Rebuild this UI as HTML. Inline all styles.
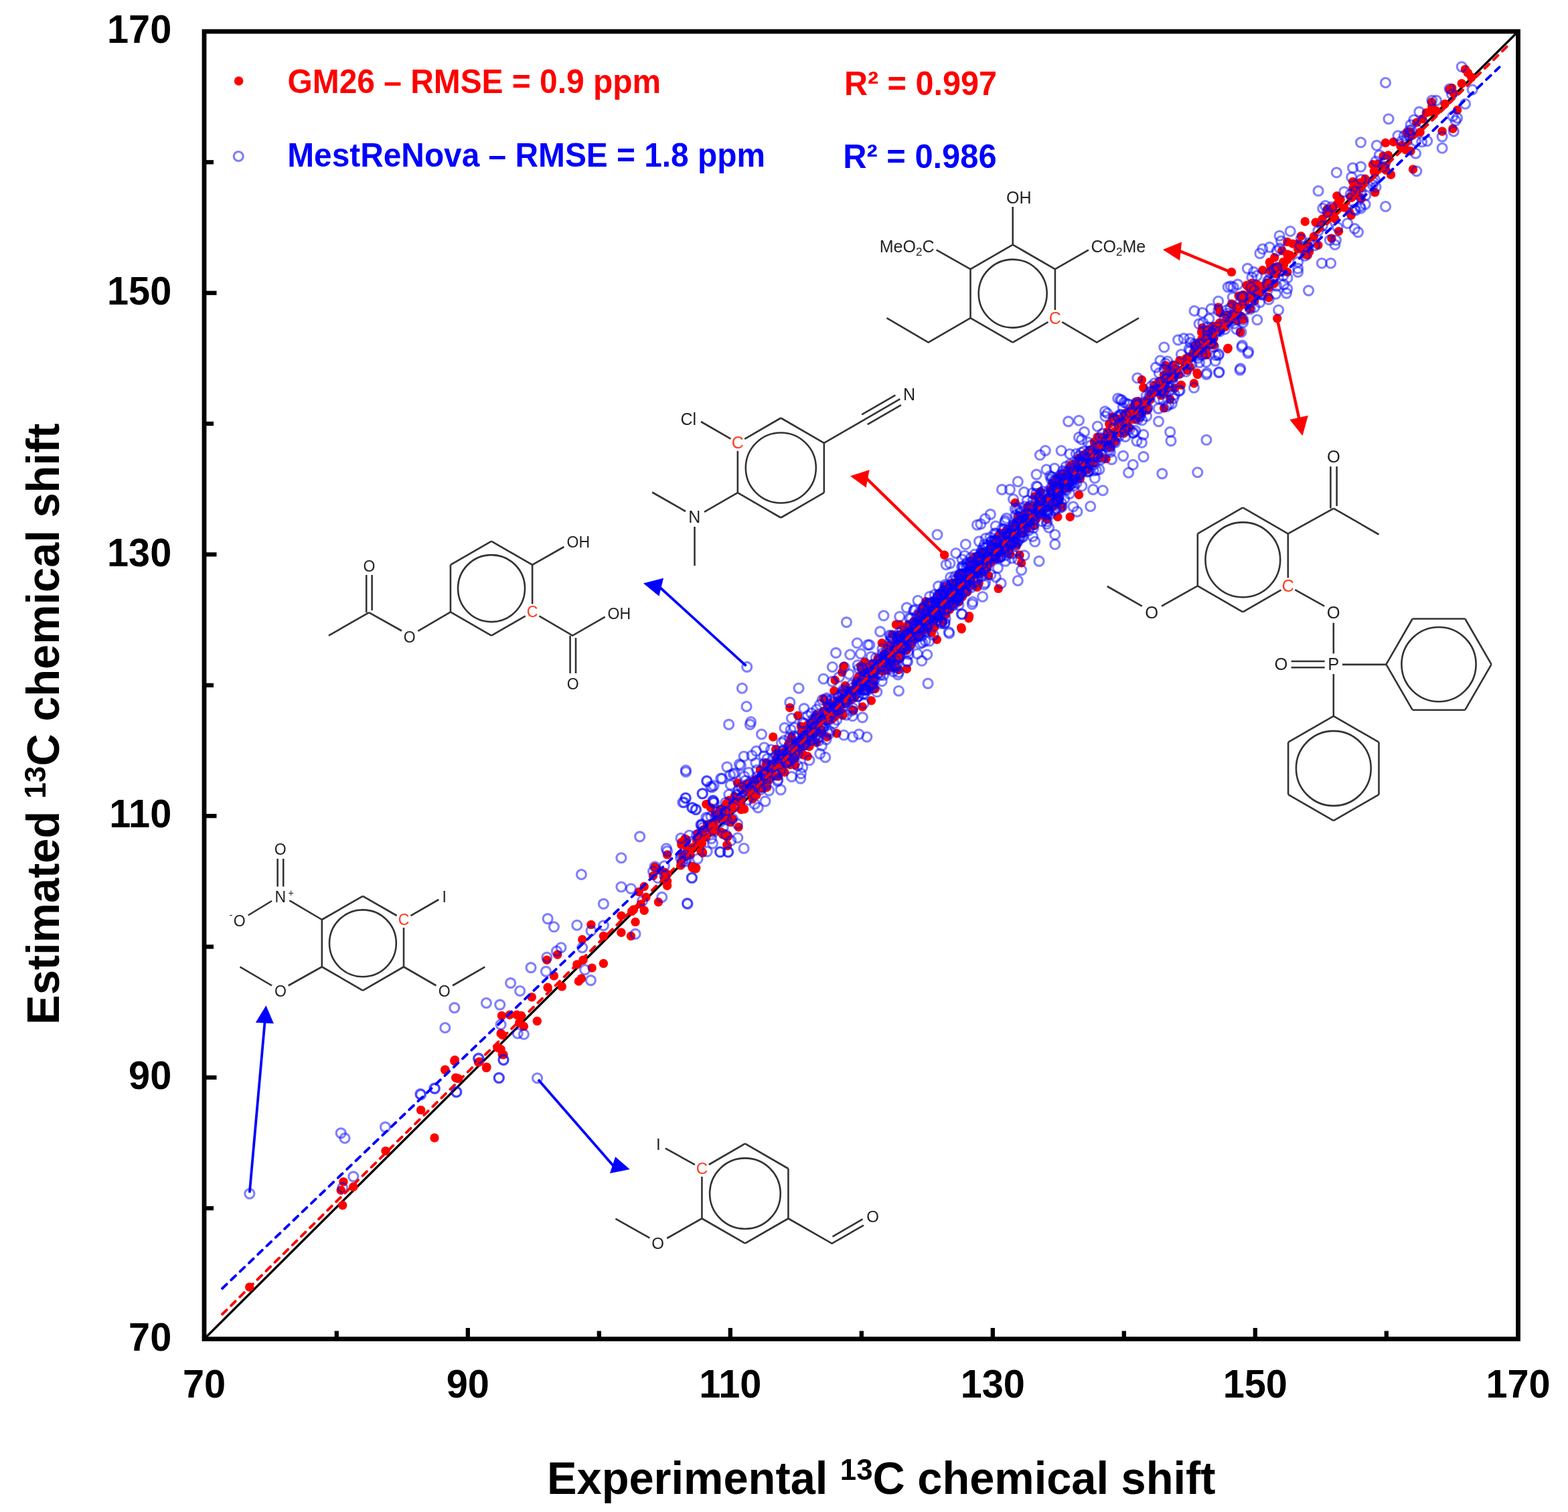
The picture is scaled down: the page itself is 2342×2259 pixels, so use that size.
<!DOCTYPE html><html><head><meta charset="utf-8"><style>html,body{margin:0;padding:0;background:#fff;overflow:hidden;}svg{display:block}text{font-family:"Liberation Sans",Arial,sans-serif}</style></head><body>
<svg width="2342" height="2259" viewBox="0 0 2342 2259">
<rect width="2342" height="2259" fill="#fff"/>
<line x1="1512.7" y1="365.6" x2="1575.9" y2="402.1" stroke="#333" stroke-width="2.6" />
<line x1="1575.9" y1="402.1" x2="1575.9" y2="463.1" stroke="#333" stroke-width="2.6" />
<line x1="1565.5" y1="481.1" x2="1512.7" y2="511.6" stroke="#333" stroke-width="2.6" />
<line x1="1512.7" y1="511.6" x2="1449.5" y2="475.1" stroke="#333" stroke-width="2.6" />
<line x1="1449.5" y1="475.1" x2="1449.5" y2="402.1" stroke="#333" stroke-width="2.6" />
<line x1="1449.5" y1="402.1" x2="1512.7" y2="365.6" stroke="#333" stroke-width="2.6" />
<circle cx="1512.7" cy="438.6" r="51.0" fill="none" stroke="#333" stroke-width="2.6"/>
<text x="1575.9" y="483.7" font-size="25" fill="#ff3b1f" text-anchor="middle" font-weight="normal" >C</text>
<line x1="1512.7" y1="365.6" x2="1512.7" y2="309.0" stroke="#333" stroke-width="2.6" />
<text x="1503.0" y="304.3" font-size="25" fill="#222" text-anchor="start" font-weight="normal" >OH</text>
<line x1="1449.5" y1="402.1" x2="1398.6" y2="373.3" stroke="#333" stroke-width="2.6" />
<text x="1395.5" y="377.0" font-size="25" fill="#222" text-anchor="end" font-weight="normal" >MeO<tspan font-size="17.0" dy="5.0">2</tspan><tspan dy="-5.0">C</tspan></text>
<line x1="1575.9" y1="402.1" x2="1626.0" y2="373.3" stroke="#333" stroke-width="2.6" />
<text x="1629.5" y="377.0" font-size="25" fill="#222" text-anchor="start" font-weight="normal" >CO<tspan font-size="17.0" dy="5.0">2</tspan><tspan dy="-5.0">Me</tspan></text>
<polyline points="1449.5,475.1 1386.6,511.6 1324.5,475.2" fill="none" stroke="#333" stroke-width="2.6" stroke-linejoin="miter"/>
<polyline points="1586.3,481.2 1638.2,511.6 1701.0,475.2" fill="none" stroke="#333" stroke-width="2.6" stroke-linejoin="miter"/>
<line x1="1166.3" y1="624.5" x2="1230.8" y2="661.8" stroke="#333" stroke-width="2.6" />
<line x1="1230.8" y1="661.8" x2="1230.8" y2="736.2" stroke="#333" stroke-width="2.6" />
<line x1="1230.8" y1="736.2" x2="1166.3" y2="773.5" stroke="#333" stroke-width="2.6" />
<line x1="1166.3" y1="773.5" x2="1101.8" y2="736.2" stroke="#333" stroke-width="2.6" />
<line x1="1101.8" y1="736.2" x2="1101.8" y2="673.8" stroke="#333" stroke-width="2.6" />
<line x1="1112.2" y1="655.8" x2="1166.3" y2="624.5" stroke="#333" stroke-width="2.6" />
<circle cx="1166.3" cy="699.0" r="52.5" fill="none" stroke="#333" stroke-width="2.6"/>
<text x="1101.8" y="670.4" font-size="25" fill="#ff3b1f" text-anchor="middle" font-weight="normal" >C</text>
<line x1="1091.4" y1="655.7" x2="1047.0" y2="630.0" stroke="#333" stroke-width="2.6" />
<text x="1016.5" y="634.5" font-size="25" fill="#222" text-anchor="start" font-weight="normal" >Cl</text>
<line x1="1230.8" y1="661.8" x2="1344.3" y2="596.2" stroke="#333" stroke-width="2.6" />
<line x1="1287.2" y1="619.4" x2="1337.4" y2="590.4" stroke="#333" stroke-width="2.6" />
<line x1="1295.7" y1="634.1" x2="1345.9" y2="605.1" stroke="#333" stroke-width="2.6" />
<text x="1358.0" y="597.6" font-size="25" fill="#222" text-anchor="middle" font-weight="normal" >N</text>
<line x1="1101.8" y1="736.2" x2="1052.0" y2="764.8" stroke="#333" stroke-width="2.6" />
<text x="1037.3" y="780.9" font-size="25" fill="#222" text-anchor="middle" font-weight="normal" >N</text>
<line x1="1024.0" y1="764.0" x2="974.2" y2="735.5" stroke="#333" stroke-width="2.6" />
<line x1="1037.5" y1="787.0" x2="1037.5" y2="845.2" stroke="#333" stroke-width="2.6" />
<line x1="734.0" y1="808.6" x2="795.1" y2="843.9" stroke="#333" stroke-width="2.6" />
<line x1="795.1" y1="843.9" x2="795.1" y2="902.4" stroke="#333" stroke-width="2.6" />
<line x1="784.7" y1="920.4" x2="734.0" y2="949.6" stroke="#333" stroke-width="2.6" />
<line x1="734.0" y1="949.6" x2="672.9" y2="914.4" stroke="#333" stroke-width="2.6" />
<line x1="672.9" y1="914.4" x2="672.9" y2="843.9" stroke="#333" stroke-width="2.6" />
<line x1="672.9" y1="843.9" x2="734.0" y2="808.6" stroke="#333" stroke-width="2.6" />
<circle cx="734.0" cy="879.1" r="50.0" fill="none" stroke="#333" stroke-width="2.6"/>
<text x="795.1" y="922.3" font-size="23" fill="#ff3b1f" text-anchor="middle" font-weight="normal" >C</text>
<line x1="795.1" y1="843.9" x2="842.4" y2="817.0" stroke="#333" stroke-width="2.6" />
<text x="846.5" y="818.3" font-size="23" fill="#222" text-anchor="start" font-weight="normal" >OH</text>
<polyline points="805.4,920.4 855.2,949.6 903.7,921.6" fill="none" stroke="#333" stroke-width="2.6" stroke-linejoin="miter"/>
<text x="907.5" y="925.4" font-size="23" fill="#222" text-anchor="start" font-weight="normal" >OH</text>
<line x1="851.6" y1="949.6" x2="851.6" y2="1006.0" stroke="#333" stroke-width="2.6" />
<line x1="860.0" y1="953.0" x2="860.0" y2="1006.0" stroke="#333" stroke-width="2.6" />
<text x="855.8" y="1030.4" font-size="23" fill="#222" text-anchor="middle" font-weight="normal" >O</text>
<line x1="672.9" y1="914.4" x2="624.3" y2="942.8" stroke="#333" stroke-width="2.6" />
<text x="611.6" y="959.5" font-size="23" fill="#222" text-anchor="middle" font-weight="normal" >O</text>
<line x1="600.0" y1="942.5" x2="551.1" y2="915.2" stroke="#333" stroke-width="2.6" />
<line x1="547.2" y1="915.2" x2="547.2" y2="859.0" stroke="#333" stroke-width="2.6" />
<line x1="555.6" y1="912.0" x2="555.6" y2="859.0" stroke="#333" stroke-width="2.6" />
<text x="551.4" y="854.1" font-size="23" fill="#222" text-anchor="middle" font-weight="normal" >O</text>
<line x1="551.1" y1="915.2" x2="490.9" y2="949.6" stroke="#333" stroke-width="2.6" />
<line x1="1856.3" y1="758.3" x2="1923.8" y2="797.3" stroke="#333" stroke-width="2.6" />
<line x1="1923.8" y1="797.3" x2="1923.8" y2="863.3" stroke="#333" stroke-width="2.6" />
<line x1="1913.5" y1="881.3" x2="1856.3" y2="914.3" stroke="#333" stroke-width="2.6" />
<line x1="1856.3" y1="914.3" x2="1788.8" y2="875.3" stroke="#333" stroke-width="2.6" />
<line x1="1788.8" y1="875.3" x2="1788.8" y2="797.3" stroke="#333" stroke-width="2.6" />
<line x1="1788.8" y1="797.3" x2="1856.3" y2="758.3" stroke="#333" stroke-width="2.6" />
<circle cx="1856.3" cy="836.3" r="55.9" fill="none" stroke="#333" stroke-width="2.6"/>
<text x="1923.8" y="884.1" font-size="25.5" fill="#ff3b1f" text-anchor="middle" font-weight="normal" >C</text>
<line x1="1923.8" y1="797.3" x2="1992.0" y2="759.6" stroke="#333" stroke-width="2.6" />
<line x1="1987.4" y1="759.6" x2="1987.4" y2="697.0" stroke="#333" stroke-width="2.6" />
<line x1="1996.6" y1="756.0" x2="1996.6" y2="697.0" stroke="#333" stroke-width="2.6" />
<text x="1991.8" y="690.6" font-size="25.5" fill="#222" text-anchor="middle" font-weight="normal" >O</text>
<line x1="1992.0" y1="759.6" x2="2059.4" y2="798.5" stroke="#333" stroke-width="2.6" />
<line x1="1788.8" y1="875.3" x2="1734.9" y2="905.6" stroke="#333" stroke-width="2.6" />
<text x="1720.2" y="923.8" font-size="25.5" fill="#222" text-anchor="middle" font-weight="normal" >O</text>
<line x1="1705.8" y1="905.6" x2="1653.8" y2="876.0" stroke="#333" stroke-width="2.6" />
<line x1="1934.3" y1="881.1" x2="1978.2" y2="905.6" stroke="#333" stroke-width="2.6" />
<text x="1991.6" y="924.1" font-size="25.5" fill="#222" text-anchor="middle" font-weight="normal" >O</text>
<line x1="1991.8" y1="930.6" x2="1991.8" y2="976.5" stroke="#333" stroke-width="2.6" />
<text x="1991.8" y="1000.8" font-size="25.5" fill="#222" text-anchor="middle" font-weight="normal" >P</text>
<line x1="1928.6" y1="988.0" x2="1978.6" y2="988.0" stroke="#333" stroke-width="2.6" />
<line x1="1928.6" y1="997.2" x2="1978.6" y2="997.2" stroke="#333" stroke-width="2.6" />
<text x="1913.3" y="1001.2" font-size="25.5" fill="#222" text-anchor="middle" font-weight="normal" >O</text>
<line x1="2005.0" y1="992.9" x2="2070.4" y2="992.9" stroke="#333" stroke-width="2.6" />
<line x1="2070.4" y1="992.6" x2="2109.7" y2="924.5" stroke="#333" stroke-width="2.6" />
<line x1="2109.7" y1="924.5" x2="2188.3" y2="924.5" stroke="#333" stroke-width="2.6" />
<line x1="2188.3" y1="924.5" x2="2227.6" y2="992.6" stroke="#333" stroke-width="2.6" />
<line x1="2227.6" y1="992.6" x2="2188.3" y2="1060.7" stroke="#333" stroke-width="2.6" />
<line x1="2188.3" y1="1060.7" x2="2109.7" y2="1060.7" stroke="#333" stroke-width="2.6" />
<line x1="2109.7" y1="1060.7" x2="2070.4" y2="992.6" stroke="#333" stroke-width="2.6" />
<circle cx="2149.0" cy="992.6" r="55.6" fill="none" stroke="#333" stroke-width="2.6"/>
<line x1="1991.8" y1="1007.0" x2="1991.8" y2="1070.0" stroke="#333" stroke-width="2.6" />
<line x1="1991.8" y1="1069.8" x2="2059.5" y2="1108.9" stroke="#333" stroke-width="2.6" />
<line x1="2059.5" y1="1108.9" x2="2059.5" y2="1187.1" stroke="#333" stroke-width="2.6" />
<line x1="2059.5" y1="1187.1" x2="1991.8" y2="1226.2" stroke="#333" stroke-width="2.6" />
<line x1="1991.8" y1="1226.2" x2="1924.1" y2="1187.1" stroke="#333" stroke-width="2.6" />
<line x1="1924.1" y1="1187.1" x2="1924.1" y2="1108.9" stroke="#333" stroke-width="2.6" />
<line x1="1924.1" y1="1108.9" x2="1991.8" y2="1069.8" stroke="#333" stroke-width="2.6" />
<circle cx="1991.8" cy="1148.0" r="55.9" fill="none" stroke="#333" stroke-width="2.6"/>
<line x1="541.9" y1="1338.8" x2="592.6" y2="1368.0" stroke="#333" stroke-width="2.6" />
<line x1="603.0" y1="1386.0" x2="603.0" y2="1444.5" stroke="#333" stroke-width="2.6" />
<line x1="603.0" y1="1444.5" x2="541.9" y2="1479.8" stroke="#333" stroke-width="2.6" />
<line x1="541.9" y1="1479.8" x2="480.8" y2="1444.5" stroke="#333" stroke-width="2.6" />
<line x1="480.8" y1="1444.5" x2="480.8" y2="1374.0" stroke="#333" stroke-width="2.6" />
<line x1="480.8" y1="1374.0" x2="541.9" y2="1338.8" stroke="#333" stroke-width="2.6" />
<circle cx="541.9" cy="1409.3" r="49.9" fill="none" stroke="#333" stroke-width="2.6"/>
<text x="603.0" y="1382.0" font-size="23" fill="#ff3b1f" text-anchor="middle" font-weight="normal" >C</text>
<line x1="480.8" y1="1374.0" x2="432.4" y2="1345.4" stroke="#333" stroke-width="2.6" />
<text x="418.8" y="1347.9" font-size="23" fill="#222" text-anchor="middle" font-weight="normal" >N</text>
<text x="434.5" y="1339.0" font-size="14" fill="#222" text-anchor="middle" font-weight="normal" >+</text>
<line x1="414.6" y1="1283.0" x2="414.6" y2="1324.6" stroke="#333" stroke-width="2.6" />
<line x1="423.2" y1="1283.0" x2="423.2" y2="1324.6" stroke="#333" stroke-width="2.6" />
<text x="418.8" y="1276.8" font-size="23" fill="#222" text-anchor="middle" font-weight="normal" >O</text>
<line x1="406.0" y1="1346.0" x2="370.7" y2="1367.5" stroke="#333" stroke-width="2.6" />
<text x="357.6" y="1383.5" font-size="23" fill="#222" text-anchor="middle" font-weight="normal" >O</text>
<text x="345.0" y="1372.0" font-size="15" fill="#222" text-anchor="middle" font-weight="normal" >-</text>
<line x1="613.4" y1="1368.1" x2="655.3" y2="1344.0" stroke="#333" stroke-width="2.6" />
<text x="663.6" y="1347.9" font-size="23" fill="#222" text-anchor="middle" font-weight="normal" >I</text>
<line x1="480.8" y1="1444.5" x2="430.7" y2="1472.5" stroke="#333" stroke-width="2.6" />
<text x="418.9" y="1489.1" font-size="23" fill="#222" text-anchor="middle" font-weight="normal" >O</text>
<line x1="406.0" y1="1472.5" x2="358.5" y2="1444.6" stroke="#333" stroke-width="2.6" />
<line x1="603.0" y1="1444.5" x2="651.4" y2="1472.5" stroke="#333" stroke-width="2.6" />
<text x="663.8" y="1489.1" font-size="23" fill="#222" text-anchor="middle" font-weight="normal" >O</text>
<line x1="676.0" y1="1472.5" x2="724.3" y2="1444.6" stroke="#333" stroke-width="2.6" />
<line x1="1112.9" y1="1708.7" x2="1177.4" y2="1746.0" stroke="#333" stroke-width="2.6" />
<line x1="1177.4" y1="1746.0" x2="1177.4" y2="1820.5" stroke="#333" stroke-width="2.6" />
<line x1="1177.4" y1="1820.5" x2="1112.9" y2="1857.7" stroke="#333" stroke-width="2.6" />
<line x1="1112.9" y1="1857.7" x2="1048.4" y2="1820.5" stroke="#333" stroke-width="2.6" />
<line x1="1048.4" y1="1820.5" x2="1048.4" y2="1758.0" stroke="#333" stroke-width="2.6" />
<line x1="1058.8" y1="1740.0" x2="1112.9" y2="1708.7" stroke="#333" stroke-width="2.6" />
<circle cx="1112.9" cy="1783.2" r="52.8" fill="none" stroke="#333" stroke-width="2.6"/>
<text x="1048.4" y="1754.2" font-size="24" fill="#ff3b1f" text-anchor="middle" font-weight="normal" >C</text>
<line x1="1037.9" y1="1740.1" x2="993.8" y2="1715.6" stroke="#333" stroke-width="2.6" />
<text x="983.3" y="1717.8" font-size="24" fill="#222" text-anchor="middle" font-weight="normal" >I</text>
<line x1="1048.4" y1="1820.5" x2="996.2" y2="1850.0" stroke="#333" stroke-width="2.6" />
<text x="982.6" y="1865.9" font-size="24" fill="#222" text-anchor="middle" font-weight="normal" >O</text>
<line x1="970.4" y1="1849.6" x2="919.4" y2="1820.8" stroke="#333" stroke-width="2.6" />
<polyline points="1177.4,1820.5 1242.6,1857.8 1290.0,1830.6" fill="none" stroke="#333" stroke-width="2.6" stroke-linejoin="miter"/>
<line x1="1243.5" y1="1847.6" x2="1288.5" y2="1821.4" stroke="#333" stroke-width="2.6" />
<text x="1303.6" y="1825.5" font-size="24" fill="#222" text-anchor="middle" font-weight="normal" >O</text>
<line x1="305.0" y1="2000.5" x2="2267.5" y2="47.0" stroke="#000" stroke-width="3.4"/>
<g fill="#ff0000">
<circle cx="372.7" cy="1923.0" r="6.7"/>
<circle cx="513.0" cy="1765.6" r="6.7"/>
<circle cx="509.2" cy="1778.3" r="6.7"/>
<circle cx="527.8" cy="1773.2" r="6.7"/>
<circle cx="511.7" cy="1800.8" r="6.7"/>
<circle cx="576.0" cy="1719.6" r="6.7"/>
<circle cx="649.0" cy="1700.0" r="6.7"/>
<circle cx="628.6" cy="1658.4" r="6.7"/>
<circle cx="664.8" cy="1598.5" r="6.7"/>
<circle cx="678.8" cy="1585.2" r="6.7"/>
<circle cx="681.4" cy="1610.7" r="6.7"/>
<circle cx="714.5" cy="1587.0" r="6.7"/>
<circle cx="726.5" cy="1595.4" r="6.7"/>
<circle cx="743.9" cy="1565.3" r="6.7"/>
<circle cx="750.3" cy="1575.5" r="6.7"/>
<circle cx="1054.8" cy="1201.6" r="6.7"/>
<circle cx="1061.4" cy="1206.8" r="6.7"/>
<circle cx="1068.0" cy="1216.1" r="6.7"/>
<circle cx="1075.9" cy="1209.5" r="6.7"/>
<circle cx="1086.5" cy="1216.1" r="6.7"/>
<circle cx="1094.4" cy="1224.0" r="6.7"/>
<circle cx="1097.1" cy="1189.7" r="6.7"/>
<circle cx="1060.1" cy="1237.3" r="6.7"/>
<circle cx="1065.4" cy="1242.5" r="6.7"/>
<circle cx="1081.2" cy="1245.2" r="6.7"/>
<circle cx="1086.5" cy="1250.5" r="6.7"/>
<circle cx="1086.5" cy="1263.7" r="6.7"/>
<circle cx="1054.8" cy="1250.5" r="6.7"/>
<circle cx="1023.1" cy="1253.1" r="6.7"/>
<circle cx="1017.8" cy="1258.4" r="6.7"/>
<circle cx="1033.6" cy="1266.3" r="6.7"/>
<circle cx="1046.9" cy="1271.6" r="6.7"/>
<circle cx="1049.5" cy="1274.3" r="6.7"/>
<circle cx="1031.0" cy="1276.9" r="6.7"/>
<circle cx="996.6" cy="1276.9" r="6.7"/>
<circle cx="1033.6" cy="1294.1" r="6.7"/>
<circle cx="1038.9" cy="1298.1" r="6.7"/>
<circle cx="978.1" cy="1295.4" r="6.7"/>
<circle cx="975.5" cy="1308.6" r="6.7"/>
<circle cx="996.6" cy="1306.0" r="6.7"/>
<circle cx="996.6" cy="1316.6" r="6.7"/>
<circle cx="996.6" cy="1323.2" r="6.7"/>
<circle cx="983.4" cy="1347.8" r="6.7"/>
<circle cx="962.2" cy="1324.5" r="6.7"/>
<circle cx="954.3" cy="1332.4" r="6.7"/>
<circle cx="964.9" cy="1340.4" r="6.7"/>
<circle cx="957.0" cy="1351.0" r="6.7"/>
<circle cx="962.2" cy="1360.2" r="6.7"/>
<circle cx="946.4" cy="1358.9" r="6.7"/>
<circle cx="943.7" cy="1361.5" r="6.7"/>
<circle cx="927.9" cy="1368.1" r="6.7"/>
<circle cx="949.0" cy="1377.4" r="6.7"/>
<circle cx="927.9" cy="1393.3" r="6.7"/>
<circle cx="942.4" cy="1398.5" r="6.7"/>
<circle cx="882.9" cy="1381.4" r="6.7"/>
<circle cx="901.4" cy="1398.5" r="6.7"/>
<circle cx="869.7" cy="1403.8" r="6.7"/>
<circle cx="871.0" cy="1434.2" r="6.7"/>
<circle cx="861.8" cy="1440.9" r="6.7"/>
<circle cx="884.2" cy="1446.1" r="6.7"/>
<circle cx="901.4" cy="1439.5" r="6.7"/>
<circle cx="864.4" cy="1466.0" r="6.7"/>
<circle cx="868.4" cy="1462.0" r="6.7"/>
<circle cx="832.7" cy="1426.3" r="6.7"/>
<circle cx="816.8" cy="1434.2" r="6.7"/>
<circle cx="827.4" cy="1458.0" r="6.7"/>
<circle cx="818.1" cy="1475.2" r="6.7"/>
<circle cx="839.3" cy="1473.9" r="6.7"/>
<circle cx="794.3" cy="1489.8" r="6.7"/>
<circle cx="749.4" cy="1517.5" r="6.7"/>
<circle cx="761.3" cy="1516.2" r="6.7"/>
<circle cx="771.9" cy="1516.2" r="6.7"/>
<circle cx="778.5" cy="1517.5" r="6.7"/>
<circle cx="775.8" cy="1528.1" r="6.7"/>
<circle cx="782.4" cy="1533.4" r="6.7"/>
<circle cx="802.3" cy="1525.5" r="6.7"/>
<circle cx="748.1" cy="1544.0" r="6.7"/>
<circle cx="750.7" cy="1546.6" r="6.7"/>
<circle cx="742.8" cy="1565.1" r="6.7"/>
<circle cx="748.1" cy="1567.8" r="6.7"/>
<circle cx="752.0" cy="1575.7" r="6.7"/>
<circle cx="716.3" cy="1586.3" r="6.7"/>
<circle cx="726.9" cy="1594.2" r="6.7"/>
<circle cx="679.3" cy="1583.6" r="6.7"/>
<circle cx="664.8" cy="1598.2" r="6.7"/>
<circle cx="680.6" cy="1610.1" r="6.7"/>
<circle cx="684.6" cy="1611.4" r="6.7"/>
<circle cx="1179.8" cy="1057.3" r="6.7"/>
<circle cx="1191.7" cy="1069.2" r="6.7"/>
<circle cx="1154.7" cy="1101.0" r="6.7"/>
<circle cx="1182.4" cy="1101.0" r="6.7"/>
<circle cx="1158.6" cy="1119.5" r="6.7"/>
<circle cx="1230.0" cy="1044.1" r="6.7"/>
<circle cx="1247.2" cy="1016.3" r="6.7"/>
<circle cx="1260.4" cy="995.2" r="6.7"/>
<circle cx="1257.8" cy="1004.4" r="6.7"/>
<circle cx="1245.9" cy="1032.2" r="6.7"/>
<circle cx="1285.6" cy="995.2" r="6.7"/>
<circle cx="1301.4" cy="1046.7" r="6.7"/>
<circle cx="1288.2" cy="1056.0" r="6.7"/>
<circle cx="1275.0" cy="1061.3" r="6.7"/>
<circle cx="1249.9" cy="1095.7" r="6.7"/>
<circle cx="1235.3" cy="1101.0" r="6.7"/>
<circle cx="1206.2" cy="1130.0" r="6.7"/>
<circle cx="1187.7" cy="1143.3" r="6.7"/>
<circle cx="1171.9" cy="1153.8" r="6.7"/>
<circle cx="1145.4" cy="1176.3" r="6.7"/>
<circle cx="1137.5" cy="1177.6" r="6.7"/>
<circle cx="1113.7" cy="1172.3" r="6.7"/>
<circle cx="1129.6" cy="1188.2" r="6.7"/>
<circle cx="1103.1" cy="1235.8" r="6.7"/>
<circle cx="1087.3" cy="1249.0" r="6.7"/>
<circle cx="1085.9" cy="1262.2" r="6.7"/>
<circle cx="1055.5" cy="1201.4" r="6.7"/>
<circle cx="1034.4" cy="1296.6" r="6.7"/>
<circle cx="1039.7" cy="1296.6" r="6.7"/>
<circle cx="1048.9" cy="1272.8" r="6.7"/>
<circle cx="1025.1" cy="1254.3" r="6.7"/>
<circle cx="1338.4" cy="933.1" r="6.7"/>
<circle cx="1343.7" cy="933.1" r="6.7"/>
<circle cx="1354.3" cy="999.2" r="6.7"/>
<circle cx="1399.3" cy="955.5" r="6.7"/>
<circle cx="1436.3" cy="939.7" r="6.7"/>
<circle cx="1446.9" cy="923.8" r="6.7"/>
<circle cx="1317.3" cy="960.8" r="6.7"/>
<circle cx="1325.2" cy="1000.5" r="6.7"/>
<circle cx="1342.4" cy="1000.5" r="6.7"/>
<circle cx="1516.3" cy="751.2" r="6.7"/>
<circle cx="1598.3" cy="772.3" r="6.7"/>
<circle cx="1579.8" cy="772.3" r="6.7"/>
<circle cx="1611.5" cy="739.3" r="6.7"/>
<circle cx="1491.2" cy="879.4" r="6.7"/>
<circle cx="1525.6" cy="841.1" r="6.7"/>
<circle cx="1523.0" cy="829.2" r="6.7"/>
<circle cx="1447.6" cy="920.4" r="6.7"/>
<circle cx="1435.7" cy="937.6" r="6.7"/>
<circle cx="1410.6" cy="829.2" r="6.7"/>
<circle cx="1738.4" cy="609.7" r="6.7"/>
<circle cx="1747.7" cy="596.5" r="6.7"/>
<circle cx="1788.7" cy="559.5" r="6.7"/>
<circle cx="1783.4" cy="572.7" r="6.7"/>
<circle cx="1833.6" cy="521.2" r="6.7"/>
<circle cx="1801.9" cy="530.4" r="6.7"/>
<circle cx="1705.4" cy="567.4" r="6.7"/>
<circle cx="1661.8" cy="623.0" r="6.7"/>
<circle cx="2188.5" cy="103.6" r="6.7"/>
<circle cx="2192.5" cy="108.9" r="6.7"/>
<circle cx="2197.8" cy="115.5" r="6.7"/>
<circle cx="2183.2" cy="124.8" r="6.7"/>
<circle cx="2168.7" cy="131.4" r="6.7"/>
<circle cx="2171.3" cy="139.3" r="6.7"/>
<circle cx="2138.3" cy="152.5" r="6.7"/>
<circle cx="2158.1" cy="155.2" r="6.7"/>
<circle cx="2176.6" cy="164.4" r="6.7"/>
<circle cx="2170.0" cy="192.2" r="6.7"/>
<circle cx="2154.1" cy="196.2" r="6.7"/>
<circle cx="2130.3" cy="168.4" r="6.7"/>
<circle cx="2135.6" cy="167.1" r="6.7"/>
<circle cx="2115.8" cy="183.0" r="6.7"/>
<circle cx="2106.5" cy="197.5" r="6.7"/>
<circle cx="2121.1" cy="197.5" r="6.7"/>
<circle cx="2099.9" cy="223.9" r="6.7"/>
<circle cx="2110.5" cy="253.0" r="6.7"/>
<circle cx="2069.5" cy="213.4" r="6.7"/>
<circle cx="2081.4" cy="212.0" r="6.7"/>
<circle cx="2092.0" cy="218.6" r="6.7"/>
<circle cx="2077.5" cy="261.0" r="6.7"/>
<circle cx="2073.5" cy="231.9" r="6.7"/>
<circle cx="2057.6" cy="245.1" r="6.7"/>
<circle cx="2052.3" cy="255.7" r="6.7"/>
<circle cx="2053.7" cy="287.4" r="6.7"/>
<circle cx="2020.6" cy="271.5" r="6.7"/>
<circle cx="2031.2" cy="272.9" r="6.7"/>
<circle cx="2032.5" cy="280.8" r="6.7"/>
<circle cx="2025.9" cy="287.4" r="6.7"/>
<circle cx="1996.8" cy="292.7" r="6.7"/>
<circle cx="2002.1" cy="298.0" r="6.7"/>
<circle cx="1991.5" cy="309.9" r="6.7"/>
<circle cx="2015.3" cy="316.5" r="6.7"/>
<circle cx="2018.0" cy="321.8" r="6.7"/>
<circle cx="1949.2" cy="331.0" r="6.7"/>
<circle cx="1965.1" cy="332.3" r="6.7"/>
<circle cx="1971.7" cy="332.3" r="6.7"/>
<circle cx="1962.4" cy="353.5" r="6.7"/>
<circle cx="1988.9" cy="356.1" r="6.7"/>
<circle cx="1999.5" cy="345.6" r="6.7"/>
<circle cx="1922.8" cy="361.4" r="6.7"/>
<circle cx="1930.7" cy="364.1" r="6.7"/>
<circle cx="1938.6" cy="372.0" r="6.7"/>
<circle cx="1914.8" cy="374.6" r="6.7"/>
<circle cx="1922.8" cy="379.9" r="6.7"/>
<circle cx="1953.2" cy="381.3" r="6.7"/>
<circle cx="1896.3" cy="391.8" r="6.7"/>
<circle cx="1897.7" cy="397.1" r="6.7"/>
<circle cx="1885.8" cy="403.7" r="6.7"/>
<circle cx="1922.8" cy="406.4" r="6.7"/>
<circle cx="1917.5" cy="395.8" r="6.7"/>
<circle cx="1862.0" cy="426.2" r="6.7"/>
<circle cx="1865.9" cy="430.2" r="6.7"/>
<circle cx="1850.1" cy="442.1" r="6.7"/>
<circle cx="1856.7" cy="440.8" r="6.7"/>
<circle cx="1839.5" cy="454.0" r="6.7"/>
<circle cx="1893.7" cy="443.4" r="6.7"/>
<circle cx="1895.0" cy="444.7" r="6.7"/>
<circle cx="1819.7" cy="459.3" r="6.7"/>
<circle cx="1822.3" cy="467.2" r="6.7"/>
<circle cx="1854.0" cy="472.5" r="6.7"/>
<circle cx="1795.9" cy="489.7" r="6.7"/>
<circle cx="1852.7" cy="496.3" r="6.7"/>
<circle cx="1834.2" cy="520.1" r="6.7"/>
<circle cx="1802.5" cy="529.3" r="6.7"/>
<circle cx="1787.9" cy="557.1" r="6.7"/>
<circle cx="1780.0" cy="533.3" r="6.7"/>
<circle cx="1839.5" cy="406.4" r="6.7"/>
<circle cx="1907.7" cy="475.7" r="6.7"/>
<circle cx="982.8" cy="1299.5" r="6.7"/>
<circle cx="992.3" cy="1312.0" r="6.7"/>
<circle cx="992.7" cy="1303.3" r="6.7"/>
<circle cx="1016.6" cy="1292.9" r="6.7"/>
<circle cx="1017.0" cy="1289.0" r="6.7"/>
<circle cx="1017.8" cy="1262.0" r="6.7"/>
<circle cx="1019.3" cy="1277.8" r="6.7"/>
<circle cx="1023.7" cy="1279.5" r="6.7"/>
<circle cx="1024.1" cy="1260.7" r="6.7"/>
<circle cx="1025.6" cy="1265.6" r="6.7"/>
<circle cx="1029.6" cy="1266.7" r="6.7"/>
<circle cx="1032.3" cy="1266.8" r="6.7"/>
<circle cx="1040.5" cy="1256.0" r="6.7"/>
<circle cx="1042.1" cy="1245.5" r="6.7"/>
<circle cx="1048.4" cy="1260.1" r="6.7"/>
<circle cx="1050.0" cy="1250.1" r="6.7"/>
<circle cx="1050.7" cy="1239.8" r="6.7"/>
<circle cx="1056.2" cy="1232.0" r="6.7"/>
<circle cx="1062.1" cy="1231.0" r="6.7"/>
<circle cx="1062.5" cy="1230.4" r="6.7"/>
<circle cx="1064.5" cy="1230.3" r="6.7"/>
<circle cx="1066.1" cy="1234.7" r="6.7"/>
<circle cx="1066.4" cy="1235.3" r="6.7"/>
<circle cx="1070.8" cy="1224.5" r="6.7"/>
<circle cx="1072.3" cy="1220.0" r="6.7"/>
<circle cx="1075.5" cy="1219.3" r="6.7"/>
<circle cx="1076.7" cy="1243.0" r="6.7"/>
<circle cx="1079.8" cy="1246.9" r="6.7"/>
<circle cx="1080.2" cy="1214.9" r="6.7"/>
<circle cx="1082.5" cy="1205.5" r="6.7"/>
<circle cx="1083.7" cy="1222.1" r="6.7"/>
<circle cx="1084.5" cy="1216.0" r="6.7"/>
<circle cx="1084.9" cy="1200.6" r="6.7"/>
<circle cx="1088.8" cy="1195.6" r="6.7"/>
<circle cx="1091.2" cy="1228.5" r="6.7"/>
<circle cx="1094.3" cy="1207.9" r="6.7"/>
<circle cx="1095.9" cy="1200.1" r="6.7"/>
<circle cx="1100.2" cy="1197.0" r="6.7"/>
<circle cx="1101.4" cy="1169.7" r="6.7"/>
<circle cx="1102.2" cy="1197.3" r="6.7"/>
<circle cx="1103.0" cy="1197.7" r="6.7"/>
<circle cx="1106.5" cy="1199.6" r="6.7"/>
<circle cx="1106.9" cy="1209.6" r="6.7"/>
<circle cx="1107.7" cy="1194.7" r="6.7"/>
<circle cx="1110.0" cy="1174.8" r="6.7"/>
<circle cx="1111.6" cy="1208.9" r="6.7"/>
<circle cx="1113.5" cy="1180.6" r="6.7"/>
<circle cx="1116.7" cy="1183.3" r="6.7"/>
<circle cx="1118.3" cy="1183.5" r="6.7"/>
<circle cx="1119.0" cy="1170.8" r="6.7"/>
<circle cx="1120.2" cy="1182.7" r="6.7"/>
<circle cx="1123.0" cy="1178.3" r="6.7"/>
<circle cx="1124.1" cy="1193.8" r="6.7"/>
<circle cx="1126.1" cy="1166.2" r="6.7"/>
<circle cx="1127.3" cy="1169.5" r="6.7"/>
<circle cx="1128.1" cy="1164.7" r="6.7"/>
<circle cx="1128.9" cy="1169.8" r="6.7"/>
<circle cx="1130.4" cy="1169.7" r="6.7"/>
<circle cx="1131.6" cy="1176.2" r="6.7"/>
<circle cx="1132.4" cy="1166.1" r="6.7"/>
<circle cx="1135.5" cy="1150.2" r="6.7"/>
<circle cx="1135.9" cy="1171.6" r="6.7"/>
<circle cx="1137.1" cy="1156.4" r="6.7"/>
<circle cx="1138.3" cy="1156.8" r="6.7"/>
<circle cx="1140.2" cy="1172.3" r="6.7"/>
<circle cx="1141.0" cy="1176.3" r="6.7"/>
<circle cx="1141.4" cy="1177.5" r="6.7"/>
<circle cx="1142.2" cy="1156.4" r="6.7"/>
<circle cx="1143.0" cy="1159.8" r="6.7"/>
<circle cx="1143.8" cy="1144.2" r="6.7"/>
<circle cx="1144.2" cy="1160.2" r="6.7"/>
<circle cx="1144.6" cy="1139.8" r="6.7"/>
<circle cx="1146.1" cy="1155.1" r="6.7"/>
<circle cx="1147.7" cy="1166.1" r="6.7"/>
<circle cx="1148.5" cy="1148.3" r="6.7"/>
<circle cx="1151.6" cy="1145.2" r="6.7"/>
<circle cx="1152.0" cy="1148.0" r="6.7"/>
<circle cx="1154.4" cy="1144.1" r="6.7"/>
<circle cx="1155.9" cy="1159.8" r="6.7"/>
<circle cx="1157.9" cy="1140.1" r="6.7"/>
<circle cx="1159.5" cy="1143.2" r="6.7"/>
<circle cx="1159.9" cy="1132.4" r="6.7"/>
<circle cx="1161.8" cy="1135.5" r="6.7"/>
<circle cx="1162.6" cy="1159.9" r="6.7"/>
<circle cx="1163.8" cy="1140.6" r="6.7"/>
<circle cx="1164.2" cy="1124.8" r="6.7"/>
<circle cx="1166.1" cy="1132.4" r="6.7"/>
<circle cx="1166.5" cy="1148.8" r="6.7"/>
<circle cx="1166.9" cy="1140.2" r="6.7"/>
<circle cx="1167.3" cy="1136.2" r="6.7"/>
<circle cx="1168.1" cy="1125.5" r="6.7"/>
<circle cx="1168.9" cy="1137.0" r="6.7"/>
<circle cx="1170.1" cy="1124.4" r="6.7"/>
<circle cx="1171.2" cy="1123.4" r="6.7"/>
<circle cx="1172.0" cy="1140.6" r="6.7"/>
<circle cx="1175.2" cy="1129.1" r="6.7"/>
<circle cx="1175.6" cy="1118.6" r="6.7"/>
<circle cx="1177.5" cy="1112.3" r="6.7"/>
<circle cx="1178.7" cy="1132.1" r="6.7"/>
<circle cx="1179.5" cy="1126.7" r="6.7"/>
<circle cx="1180.3" cy="1142.6" r="6.7"/>
<circle cx="1181.1" cy="1104.4" r="6.7"/>
<circle cx="1182.2" cy="1111.8" r="6.7"/>
<circle cx="1183.8" cy="1118.1" r="6.7"/>
<circle cx="1185.4" cy="1116.1" r="6.7"/>
<circle cx="1186.6" cy="1116.8" r="6.7"/>
<circle cx="1187.3" cy="1133.0" r="6.7"/>
<circle cx="1187.7" cy="1113.1" r="6.7"/>
<circle cx="1189.3" cy="1126.9" r="6.7"/>
<circle cx="1191.3" cy="1121.7" r="6.7"/>
<circle cx="1191.7" cy="1110.5" r="6.7"/>
<circle cx="1192.4" cy="1116.4" r="6.7"/>
<circle cx="1192.8" cy="1115.3" r="6.7"/>
<circle cx="1194.0" cy="1112.8" r="6.7"/>
<circle cx="1195.6" cy="1118.8" r="6.7"/>
<circle cx="1196.4" cy="1085.3" r="6.7"/>
<circle cx="1197.5" cy="1094.0" r="6.7"/>
<circle cx="1198.7" cy="1099.4" r="6.7"/>
<circle cx="1199.1" cy="1115.6" r="6.7"/>
<circle cx="1199.5" cy="1097.7" r="6.7"/>
<circle cx="1200.3" cy="1127.9" r="6.7"/>
<circle cx="1200.7" cy="1104.4" r="6.7"/>
<circle cx="1201.1" cy="1096.4" r="6.7"/>
<circle cx="1201.5" cy="1087.7" r="6.7"/>
<circle cx="1202.3" cy="1100.7" r="6.7"/>
<circle cx="1205.4" cy="1083.7" r="6.7"/>
<circle cx="1206.6" cy="1083.6" r="6.7"/>
<circle cx="1208.1" cy="1096.3" r="6.7"/>
<circle cx="1208.9" cy="1115.2" r="6.7"/>
<circle cx="1210.1" cy="1091.4" r="6.7"/>
<circle cx="1210.5" cy="1102.4" r="6.7"/>
<circle cx="1211.7" cy="1090.5" r="6.7"/>
<circle cx="1212.1" cy="1082.3" r="6.7"/>
<circle cx="1212.5" cy="1096.7" r="6.7"/>
<circle cx="1213.6" cy="1099.5" r="6.7"/>
<circle cx="1214.0" cy="1083.0" r="6.7"/>
<circle cx="1214.4" cy="1077.4" r="6.7"/>
<circle cx="1216.0" cy="1073.1" r="6.7"/>
<circle cx="1216.8" cy="1094.9" r="6.7"/>
<circle cx="1218.0" cy="1084.0" r="6.7"/>
<circle cx="1219.1" cy="1068.0" r="6.7"/>
<circle cx="1219.5" cy="1109.3" r="6.7"/>
<circle cx="1219.9" cy="1080.1" r="6.7"/>
<circle cx="1221.5" cy="1086.5" r="6.7"/>
<circle cx="1221.9" cy="1068.4" r="6.7"/>
<circle cx="1222.7" cy="1072.1" r="6.7"/>
<circle cx="1224.2" cy="1074.4" r="6.7"/>
<circle cx="1224.6" cy="1089.3" r="6.7"/>
<circle cx="1226.2" cy="1089.5" r="6.7"/>
<circle cx="1227.4" cy="1094.9" r="6.7"/>
<circle cx="1227.8" cy="1075.7" r="6.7"/>
<circle cx="1228.2" cy="1075.2" r="6.7"/>
<circle cx="1229.3" cy="1068.6" r="6.7"/>
<circle cx="1229.7" cy="1062.5" r="6.7"/>
<circle cx="1234.0" cy="1067.4" r="6.7"/>
<circle cx="1234.4" cy="1065.5" r="6.7"/>
<circle cx="1234.8" cy="1050.9" r="6.7"/>
<circle cx="1235.2" cy="1068.2" r="6.7"/>
<circle cx="1235.6" cy="1074.8" r="6.7"/>
<circle cx="1236.8" cy="1076.9" r="6.7"/>
<circle cx="1238.4" cy="1050.7" r="6.7"/>
<circle cx="1239.1" cy="1064.6" r="6.7"/>
<circle cx="1239.5" cy="1054.3" r="6.7"/>
<circle cx="1241.1" cy="1060.2" r="6.7"/>
<circle cx="1241.9" cy="1068.1" r="6.7"/>
<circle cx="1242.3" cy="1063.4" r="6.7"/>
<circle cx="1243.1" cy="1074.2" r="6.7"/>
<circle cx="1244.6" cy="1070.5" r="6.7"/>
<circle cx="1245.4" cy="1063.7" r="6.7"/>
<circle cx="1245.8" cy="1056.5" r="6.7"/>
<circle cx="1246.6" cy="1051.6" r="6.7"/>
<circle cx="1247.8" cy="1070.1" r="6.7"/>
<circle cx="1248.6" cy="1066.8" r="6.7"/>
<circle cx="1249.4" cy="1047.9" r="6.7"/>
<circle cx="1249.7" cy="1059.7" r="6.7"/>
<circle cx="1250.1" cy="1058.3" r="6.7"/>
<circle cx="1252.1" cy="1062.2" r="6.7"/>
<circle cx="1252.9" cy="1050.9" r="6.7"/>
<circle cx="1253.3" cy="1054.2" r="6.7"/>
<circle cx="1254.1" cy="1045.7" r="6.7"/>
<circle cx="1256.4" cy="1052.2" r="6.7"/>
<circle cx="1258.0" cy="1064.9" r="6.7"/>
<circle cx="1258.8" cy="1068.7" r="6.7"/>
<circle cx="1259.2" cy="1043.3" r="6.7"/>
<circle cx="1260.3" cy="1041.0" r="6.7"/>
<circle cx="1260.7" cy="1051.4" r="6.7"/>
<circle cx="1261.1" cy="1033.8" r="6.7"/>
<circle cx="1261.9" cy="1039.1" r="6.7"/>
<circle cx="1262.3" cy="1024.5" r="6.7"/>
<circle cx="1263.5" cy="1045.7" r="6.7"/>
<circle cx="1263.9" cy="1044.2" r="6.7"/>
<circle cx="1264.3" cy="1037.5" r="6.7"/>
<circle cx="1265.8" cy="1048.8" r="6.7"/>
<circle cx="1268.2" cy="1035.5" r="6.7"/>
<circle cx="1271.3" cy="1038.2" r="6.7"/>
<circle cx="1271.7" cy="1031.0" r="6.7"/>
<circle cx="1272.5" cy="1044.2" r="6.7"/>
<circle cx="1273.3" cy="1044.1" r="6.7"/>
<circle cx="1273.7" cy="1043.1" r="6.7"/>
<circle cx="1274.1" cy="1061.2" r="6.7"/>
<circle cx="1274.5" cy="1037.9" r="6.7"/>
<circle cx="1276.0" cy="1042.2" r="6.7"/>
<circle cx="1278.4" cy="1021.0" r="6.7"/>
<circle cx="1279.2" cy="1026.8" r="6.7"/>
<circle cx="1280.0" cy="1018.4" r="6.7"/>
<circle cx="1280.4" cy="1014.9" r="6.7"/>
<circle cx="1280.8" cy="1028.9" r="6.7"/>
<circle cx="1281.1" cy="1022.5" r="6.7"/>
<circle cx="1282.3" cy="1020.7" r="6.7"/>
<circle cx="1282.7" cy="1011.0" r="6.7"/>
<circle cx="1284.7" cy="1012.1" r="6.7"/>
<circle cx="1286.6" cy="1025.3" r="6.7"/>
<circle cx="1287.4" cy="1014.2" r="6.7"/>
<circle cx="1287.8" cy="1019.1" r="6.7"/>
<circle cx="1288.2" cy="1001.2" r="6.7"/>
<circle cx="1288.6" cy="1017.8" r="6.7"/>
<circle cx="1289.4" cy="1027.5" r="6.7"/>
<circle cx="1289.8" cy="997.9" r="6.7"/>
<circle cx="1290.2" cy="1005.5" r="6.7"/>
<circle cx="1291.0" cy="1008.3" r="6.7"/>
<circle cx="1291.4" cy="989.0" r="6.7"/>
<circle cx="1292.1" cy="1009.8" r="6.7"/>
<circle cx="1292.5" cy="1012.6" r="6.7"/>
<circle cx="1292.9" cy="998.2" r="6.7"/>
<circle cx="1293.3" cy="1002.1" r="6.7"/>
<circle cx="1295.7" cy="1015.8" r="6.7"/>
<circle cx="1296.5" cy="1000.3" r="6.7"/>
<circle cx="1296.8" cy="1009.5" r="6.7"/>
<circle cx="1297.6" cy="1015.2" r="6.7"/>
<circle cx="1299.6" cy="1000.9" r="6.7"/>
<circle cx="1301.2" cy="1029.7" r="6.7"/>
<circle cx="1301.6" cy="1015.4" r="6.7"/>
<circle cx="1301.9" cy="1017.7" r="6.7"/>
<circle cx="1302.7" cy="991.6" r="6.7"/>
<circle cx="1303.9" cy="1006.2" r="6.7"/>
<circle cx="1304.3" cy="996.2" r="6.7"/>
<circle cx="1304.7" cy="1020.6" r="6.7"/>
<circle cx="1305.1" cy="1012.4" r="6.7"/>
<circle cx="1306.3" cy="995.8" r="6.7"/>
<circle cx="1307.1" cy="1029.3" r="6.7"/>
<circle cx="1308.2" cy="1002.7" r="6.7"/>
<circle cx="1309.8" cy="1001.3" r="6.7"/>
<circle cx="1310.6" cy="997.1" r="6.7"/>
<circle cx="1311.0" cy="983.4" r="6.7"/>
<circle cx="1314.9" cy="998.4" r="6.7"/>
<circle cx="1315.7" cy="990.5" r="6.7"/>
<circle cx="1317.3" cy="981.9" r="6.7"/>
<circle cx="1318.0" cy="993.1" r="6.7"/>
<circle cx="1318.4" cy="1003.1" r="6.7"/>
<circle cx="1319.2" cy="991.1" r="6.7"/>
<circle cx="1319.6" cy="982.7" r="6.7"/>
<circle cx="1320.4" cy="976.6" r="6.7"/>
<circle cx="1322.0" cy="989.9" r="6.7"/>
<circle cx="1322.8" cy="983.8" r="6.7"/>
<circle cx="1323.1" cy="986.7" r="6.7"/>
<circle cx="1323.9" cy="979.9" r="6.7"/>
<circle cx="1324.3" cy="984.9" r="6.7"/>
<circle cx="1325.1" cy="965.0" r="6.7"/>
<circle cx="1326.7" cy="992.8" r="6.7"/>
<circle cx="1327.1" cy="973.2" r="6.7"/>
<circle cx="1328.2" cy="964.1" r="6.7"/>
<circle cx="1329.0" cy="985.3" r="6.7"/>
<circle cx="1329.4" cy="970.5" r="6.7"/>
<circle cx="1329.8" cy="987.5" r="6.7"/>
<circle cx="1330.2" cy="980.3" r="6.7"/>
<circle cx="1331.0" cy="986.2" r="6.7"/>
<circle cx="1331.4" cy="990.7" r="6.7"/>
<circle cx="1333.0" cy="948.1" r="6.7"/>
<circle cx="1334.1" cy="997.1" r="6.7"/>
<circle cx="1335.3" cy="993.0" r="6.7"/>
<circle cx="1335.7" cy="978.1" r="6.7"/>
<circle cx="1336.9" cy="962.8" r="6.7"/>
<circle cx="1337.3" cy="987.7" r="6.7"/>
<circle cx="1338.1" cy="960.2" r="6.7"/>
<circle cx="1339.2" cy="957.3" r="6.7"/>
<circle cx="1340.4" cy="956.0" r="6.7"/>
<circle cx="1341.2" cy="967.0" r="6.7"/>
<circle cx="1341.6" cy="979.3" r="6.7"/>
<circle cx="1342.0" cy="964.0" r="6.7"/>
<circle cx="1343.2" cy="948.5" r="6.7"/>
<circle cx="1343.9" cy="984.4" r="6.7"/>
<circle cx="1344.7" cy="977.8" r="6.7"/>
<circle cx="1345.1" cy="960.8" r="6.7"/>
<circle cx="1345.9" cy="972.5" r="6.7"/>
<circle cx="1346.3" cy="960.1" r="6.7"/>
<circle cx="1347.1" cy="949.3" r="6.7"/>
<circle cx="1347.9" cy="968.6" r="6.7"/>
<circle cx="1348.3" cy="957.4" r="6.7"/>
<circle cx="1349.4" cy="966.6" r="6.7"/>
<circle cx="1350.2" cy="940.9" r="6.7"/>
<circle cx="1351.4" cy="950.1" r="6.7"/>
<circle cx="1351.8" cy="953.7" r="6.7"/>
<circle cx="1352.2" cy="948.2" r="6.7"/>
<circle cx="1353.4" cy="964.0" r="6.7"/>
<circle cx="1353.8" cy="946.8" r="6.7"/>
<circle cx="1354.2" cy="971.5" r="6.7"/>
<circle cx="1354.9" cy="959.7" r="6.7"/>
<circle cx="1356.1" cy="944.5" r="6.7"/>
<circle cx="1356.5" cy="933.1" r="6.7"/>
<circle cx="1357.3" cy="947.6" r="6.7"/>
<circle cx="1358.5" cy="939.2" r="6.7"/>
<circle cx="1359.6" cy="964.3" r="6.7"/>
<circle cx="1360.0" cy="952.4" r="6.7"/>
<circle cx="1360.4" cy="954.8" r="6.7"/>
<circle cx="1360.8" cy="937.9" r="6.7"/>
<circle cx="1361.2" cy="949.0" r="6.7"/>
<circle cx="1361.6" cy="940.4" r="6.7"/>
<circle cx="1363.2" cy="950.3" r="6.7"/>
<circle cx="1364.7" cy="954.8" r="6.7"/>
<circle cx="1365.1" cy="947.9" r="6.7"/>
<circle cx="1365.5" cy="927.5" r="6.7"/>
<circle cx="1365.9" cy="929.7" r="6.7"/>
<circle cx="1366.3" cy="947.9" r="6.7"/>
<circle cx="1366.7" cy="937.1" r="6.7"/>
<circle cx="1367.1" cy="951.2" r="6.7"/>
<circle cx="1367.9" cy="937.5" r="6.7"/>
<circle cx="1369.1" cy="948.7" r="6.7"/>
<circle cx="1369.5" cy="936.5" r="6.7"/>
<circle cx="1371.0" cy="943.7" r="6.7"/>
<circle cx="1371.4" cy="939.0" r="6.7"/>
<circle cx="1372.2" cy="933.5" r="6.7"/>
<circle cx="1372.6" cy="916.2" r="6.7"/>
<circle cx="1373.0" cy="931.6" r="6.7"/>
<circle cx="1373.8" cy="940.7" r="6.7"/>
<circle cx="1374.2" cy="932.8" r="6.7"/>
<circle cx="1374.6" cy="930.6" r="6.7"/>
<circle cx="1375.0" cy="942.8" r="6.7"/>
<circle cx="1375.3" cy="946.7" r="6.7"/>
<circle cx="1376.1" cy="931.9" r="6.7"/>
<circle cx="1376.9" cy="933.0" r="6.7"/>
<circle cx="1377.7" cy="919.8" r="6.7"/>
<circle cx="1378.1" cy="907.7" r="6.7"/>
<circle cx="1378.5" cy="924.9" r="6.7"/>
<circle cx="1378.9" cy="925.4" r="6.7"/>
<circle cx="1379.3" cy="940.0" r="6.7"/>
<circle cx="1379.7" cy="941.3" r="6.7"/>
<circle cx="1380.1" cy="916.9" r="6.7"/>
<circle cx="1381.2" cy="930.7" r="6.7"/>
<circle cx="1382.0" cy="908.8" r="6.7"/>
<circle cx="1382.4" cy="940.2" r="6.7"/>
<circle cx="1382.8" cy="898.7" r="6.7"/>
<circle cx="1383.2" cy="924.2" r="6.7"/>
<circle cx="1383.6" cy="924.8" r="6.7"/>
<circle cx="1384.0" cy="927.7" r="6.7"/>
<circle cx="1384.4" cy="936.5" r="6.7"/>
<circle cx="1384.8" cy="926.2" r="6.7"/>
<circle cx="1385.9" cy="914.6" r="6.7"/>
<circle cx="1386.3" cy="924.2" r="6.7"/>
<circle cx="1386.7" cy="913.4" r="6.7"/>
<circle cx="1387.5" cy="937.9" r="6.7"/>
<circle cx="1387.9" cy="909.9" r="6.7"/>
<circle cx="1388.3" cy="939.2" r="6.7"/>
<circle cx="1388.7" cy="941.1" r="6.7"/>
<circle cx="1389.5" cy="919.4" r="6.7"/>
<circle cx="1389.9" cy="900.4" r="6.7"/>
<circle cx="1391.4" cy="944.9" r="6.7"/>
<circle cx="1392.2" cy="930.7" r="6.7"/>
<circle cx="1392.6" cy="920.9" r="6.7"/>
<circle cx="1393.0" cy="918.7" r="6.7"/>
<circle cx="1393.4" cy="897.8" r="6.7"/>
<circle cx="1394.2" cy="907.2" r="6.7"/>
<circle cx="1395.0" cy="919.9" r="6.7"/>
<circle cx="1395.8" cy="937.3" r="6.7"/>
<circle cx="1396.1" cy="913.4" r="6.7"/>
<circle cx="1396.5" cy="904.6" r="6.7"/>
<circle cx="1396.9" cy="915.9" r="6.7"/>
<circle cx="1397.3" cy="899.8" r="6.7"/>
<circle cx="1397.7" cy="924.8" r="6.7"/>
<circle cx="1398.1" cy="907.4" r="6.7"/>
<circle cx="1398.5" cy="918.4" r="6.7"/>
<circle cx="1398.9" cy="899.1" r="6.7"/>
<circle cx="1399.7" cy="923.9" r="6.7"/>
<circle cx="1400.1" cy="912.4" r="6.7"/>
<circle cx="1400.5" cy="918.3" r="6.7"/>
<circle cx="1400.9" cy="908.3" r="6.7"/>
<circle cx="1401.3" cy="918.9" r="6.7"/>
<circle cx="1401.6" cy="920.8" r="6.7"/>
<circle cx="1402.0" cy="919.2" r="6.7"/>
<circle cx="1402.4" cy="898.2" r="6.7"/>
<circle cx="1403.2" cy="886.5" r="6.7"/>
<circle cx="1403.6" cy="896.1" r="6.7"/>
<circle cx="1404.0" cy="906.0" r="6.7"/>
<circle cx="1404.4" cy="888.1" r="6.7"/>
<circle cx="1404.8" cy="910.0" r="6.7"/>
<circle cx="1405.6" cy="892.3" r="6.7"/>
<circle cx="1406.0" cy="904.9" r="6.7"/>
<circle cx="1406.7" cy="899.2" r="6.7"/>
<circle cx="1407.5" cy="901.4" r="6.7"/>
<circle cx="1408.3" cy="928.8" r="6.7"/>
<circle cx="1408.7" cy="917.2" r="6.7"/>
<circle cx="1409.5" cy="908.7" r="6.7"/>
<circle cx="1409.9" cy="901.2" r="6.7"/>
<circle cx="1410.3" cy="909.3" r="6.7"/>
<circle cx="1410.7" cy="894.1" r="6.7"/>
<circle cx="1411.1" cy="905.0" r="6.7"/>
<circle cx="1411.5" cy="889.5" r="6.7"/>
<circle cx="1411.8" cy="877.2" r="6.7"/>
<circle cx="1412.2" cy="886.0" r="6.7"/>
<circle cx="1413.0" cy="917.7" r="6.7"/>
<circle cx="1413.4" cy="882.9" r="6.7"/>
<circle cx="1413.8" cy="879.6" r="6.7"/>
<circle cx="1414.2" cy="882.4" r="6.7"/>
<circle cx="1414.6" cy="899.2" r="6.7"/>
<circle cx="1415.0" cy="902.9" r="6.7"/>
<circle cx="1416.2" cy="885.0" r="6.7"/>
<circle cx="1416.6" cy="906.1" r="6.7"/>
<circle cx="1417.7" cy="905.9" r="6.7"/>
<circle cx="1418.5" cy="910.5" r="6.7"/>
<circle cx="1418.9" cy="903.1" r="6.7"/>
<circle cx="1419.7" cy="872.4" r="6.7"/>
<circle cx="1421.7" cy="883.0" r="6.7"/>
<circle cx="1422.1" cy="894.5" r="6.7"/>
<circle cx="1422.4" cy="897.2" r="6.7"/>
<circle cx="1422.8" cy="871.5" r="6.7"/>
<circle cx="1423.2" cy="902.5" r="6.7"/>
<circle cx="1423.6" cy="886.4" r="6.7"/>
<circle cx="1424.0" cy="877.8" r="6.7"/>
<circle cx="1424.8" cy="898.5" r="6.7"/>
<circle cx="1425.2" cy="892.5" r="6.7"/>
<circle cx="1426.0" cy="888.3" r="6.7"/>
<circle cx="1426.4" cy="883.0" r="6.7"/>
<circle cx="1426.8" cy="876.6" r="6.7"/>
<circle cx="1427.5" cy="880.8" r="6.7"/>
<circle cx="1427.9" cy="880.5" r="6.7"/>
<circle cx="1428.7" cy="876.8" r="6.7"/>
<circle cx="1429.1" cy="868.9" r="6.7"/>
<circle cx="1429.5" cy="890.3" r="6.7"/>
<circle cx="1429.9" cy="868.8" r="6.7"/>
<circle cx="1430.7" cy="884.9" r="6.7"/>
<circle cx="1431.1" cy="859.5" r="6.7"/>
<circle cx="1431.5" cy="862.3" r="6.7"/>
<circle cx="1431.9" cy="899.6" r="6.7"/>
<circle cx="1432.3" cy="869.8" r="6.7"/>
<circle cx="1432.7" cy="878.5" r="6.7"/>
<circle cx="1433.0" cy="867.9" r="6.7"/>
<circle cx="1433.8" cy="871.2" r="6.7"/>
<circle cx="1434.2" cy="866.7" r="6.7"/>
<circle cx="1434.6" cy="865.1" r="6.7"/>
<circle cx="1435.0" cy="877.9" r="6.7"/>
<circle cx="1435.4" cy="869.7" r="6.7"/>
<circle cx="1435.8" cy="870.7" r="6.7"/>
<circle cx="1436.2" cy="858.0" r="6.7"/>
<circle cx="1436.6" cy="863.8" r="6.7"/>
<circle cx="1437.0" cy="875.3" r="6.7"/>
<circle cx="1437.4" cy="891.5" r="6.7"/>
<circle cx="1438.1" cy="881.9" r="6.7"/>
<circle cx="1438.5" cy="864.1" r="6.7"/>
<circle cx="1439.3" cy="868.7" r="6.7"/>
<circle cx="1439.7" cy="872.3" r="6.7"/>
<circle cx="1440.5" cy="874.7" r="6.7"/>
<circle cx="1440.9" cy="863.8" r="6.7"/>
<circle cx="1441.3" cy="881.8" r="6.7"/>
<circle cx="1441.7" cy="866.6" r="6.7"/>
<circle cx="1442.1" cy="876.1" r="6.7"/>
<circle cx="1442.5" cy="861.5" r="6.7"/>
<circle cx="1443.2" cy="869.2" r="6.7"/>
<circle cx="1443.6" cy="874.3" r="6.7"/>
<circle cx="1444.0" cy="857.2" r="6.7"/>
<circle cx="1444.4" cy="853.3" r="6.7"/>
<circle cx="1444.8" cy="884.2" r="6.7"/>
<circle cx="1446.4" cy="863.8" r="6.7"/>
<circle cx="1447.2" cy="869.2" r="6.7"/>
<circle cx="1447.6" cy="864.7" r="6.7"/>
<circle cx="1448.4" cy="866.1" r="6.7"/>
<circle cx="1448.7" cy="846.1" r="6.7"/>
<circle cx="1449.5" cy="854.1" r="6.7"/>
<circle cx="1449.9" cy="863.3" r="6.7"/>
<circle cx="1450.3" cy="865.2" r="6.7"/>
<circle cx="1450.7" cy="851.6" r="6.7"/>
<circle cx="1451.5" cy="873.3" r="6.7"/>
<circle cx="1451.9" cy="837.5" r="6.7"/>
<circle cx="1452.7" cy="836.8" r="6.7"/>
<circle cx="1453.1" cy="849.0" r="6.7"/>
<circle cx="1453.5" cy="854.4" r="6.7"/>
<circle cx="1454.6" cy="858.8" r="6.7"/>
<circle cx="1455.8" cy="832.0" r="6.7"/>
<circle cx="1456.2" cy="838.7" r="6.7"/>
<circle cx="1457.4" cy="855.9" r="6.7"/>
<circle cx="1458.2" cy="876.2" r="6.7"/>
<circle cx="1458.6" cy="851.0" r="6.7"/>
<circle cx="1459.7" cy="877.3" r="6.7"/>
<circle cx="1460.1" cy="857.5" r="6.7"/>
<circle cx="1460.5" cy="856.2" r="6.7"/>
<circle cx="1460.9" cy="851.1" r="6.7"/>
<circle cx="1461.7" cy="847.5" r="6.7"/>
<circle cx="1462.1" cy="871.4" r="6.7"/>
<circle cx="1462.5" cy="854.2" r="6.7"/>
<circle cx="1462.9" cy="855.9" r="6.7"/>
<circle cx="1463.7" cy="845.7" r="6.7"/>
<circle cx="1464.1" cy="855.5" r="6.7"/>
<circle cx="1465.2" cy="847.1" r="6.7"/>
<circle cx="1465.6" cy="836.1" r="6.7"/>
<circle cx="1466.0" cy="847.3" r="6.7"/>
<circle cx="1466.4" cy="848.9" r="6.7"/>
<circle cx="1466.8" cy="841.0" r="6.7"/>
<circle cx="1467.2" cy="824.8" r="6.7"/>
<circle cx="1467.6" cy="848.4" r="6.7"/>
<circle cx="1468.0" cy="832.2" r="6.7"/>
<circle cx="1468.4" cy="836.5" r="6.7"/>
<circle cx="1468.8" cy="827.6" r="6.7"/>
<circle cx="1469.2" cy="826.4" r="6.7"/>
<circle cx="1469.5" cy="840.2" r="6.7"/>
<circle cx="1469.9" cy="836.8" r="6.7"/>
<circle cx="1470.3" cy="833.5" r="6.7"/>
<circle cx="1471.5" cy="834.0" r="6.7"/>
<circle cx="1472.3" cy="829.6" r="6.7"/>
<circle cx="1472.7" cy="846.4" r="6.7"/>
<circle cx="1473.1" cy="832.9" r="6.7"/>
<circle cx="1473.5" cy="850.2" r="6.7"/>
<circle cx="1475.4" cy="840.7" r="6.7"/>
<circle cx="1475.8" cy="837.9" r="6.7"/>
<circle cx="1476.6" cy="859.9" r="6.7"/>
<circle cx="1477.0" cy="821.7" r="6.7"/>
<circle cx="1477.4" cy="832.6" r="6.7"/>
<circle cx="1479.0" cy="834.2" r="6.7"/>
<circle cx="1479.4" cy="839.1" r="6.7"/>
<circle cx="1479.8" cy="840.3" r="6.7"/>
<circle cx="1480.5" cy="832.7" r="6.7"/>
<circle cx="1480.9" cy="833.1" r="6.7"/>
<circle cx="1481.3" cy="833.9" r="6.7"/>
<circle cx="1483.7" cy="824.8" r="6.7"/>
<circle cx="1484.1" cy="832.8" r="6.7"/>
<circle cx="1484.5" cy="813.7" r="6.7"/>
<circle cx="1484.9" cy="828.1" r="6.7"/>
<circle cx="1485.6" cy="818.2" r="6.7"/>
<circle cx="1486.0" cy="810.3" r="6.7"/>
<circle cx="1486.4" cy="833.3" r="6.7"/>
<circle cx="1486.8" cy="833.0" r="6.7"/>
<circle cx="1487.2" cy="813.2" r="6.7"/>
<circle cx="1487.6" cy="806.1" r="6.7"/>
<circle cx="1488.0" cy="811.0" r="6.7"/>
<circle cx="1488.4" cy="835.2" r="6.7"/>
<circle cx="1488.8" cy="825.9" r="6.7"/>
<circle cx="1489.2" cy="824.5" r="6.7"/>
<circle cx="1489.6" cy="810.0" r="6.7"/>
<circle cx="1490.3" cy="823.6" r="6.7"/>
<circle cx="1490.7" cy="802.1" r="6.7"/>
<circle cx="1491.1" cy="813.7" r="6.7"/>
<circle cx="1491.5" cy="805.0" r="6.7"/>
<circle cx="1492.3" cy="817.1" r="6.7"/>
<circle cx="1492.7" cy="818.6" r="6.7"/>
<circle cx="1493.1" cy="814.8" r="6.7"/>
<circle cx="1493.9" cy="804.6" r="6.7"/>
<circle cx="1494.7" cy="796.4" r="6.7"/>
<circle cx="1495.1" cy="815.2" r="6.7"/>
<circle cx="1496.6" cy="825.6" r="6.7"/>
<circle cx="1497.8" cy="816.1" r="6.7"/>
<circle cx="1498.2" cy="810.1" r="6.7"/>
<circle cx="1499.4" cy="806.5" r="6.7"/>
<circle cx="1500.2" cy="808.2" r="6.7"/>
<circle cx="1500.6" cy="807.3" r="6.7"/>
<circle cx="1500.9" cy="813.1" r="6.7"/>
<circle cx="1501.3" cy="795.1" r="6.7"/>
<circle cx="1501.7" cy="815.5" r="6.7"/>
<circle cx="1502.5" cy="810.9" r="6.7"/>
<circle cx="1502.9" cy="793.6" r="6.7"/>
<circle cx="1503.3" cy="798.5" r="6.7"/>
<circle cx="1504.1" cy="812.2" r="6.7"/>
<circle cx="1504.9" cy="794.8" r="6.7"/>
<circle cx="1505.3" cy="808.3" r="6.7"/>
<circle cx="1506.0" cy="797.7" r="6.7"/>
<circle cx="1506.4" cy="817.4" r="6.7"/>
<circle cx="1506.8" cy="803.9" r="6.7"/>
<circle cx="1507.2" cy="803.9" r="6.7"/>
<circle cx="1507.6" cy="799.2" r="6.7"/>
<circle cx="1508.0" cy="806.1" r="6.7"/>
<circle cx="1508.4" cy="810.0" r="6.7"/>
<circle cx="1508.8" cy="827.8" r="6.7"/>
<circle cx="1509.6" cy="817.6" r="6.7"/>
<circle cx="1510.8" cy="806.1" r="6.7"/>
<circle cx="1511.2" cy="792.8" r="6.7"/>
<circle cx="1512.3" cy="796.3" r="6.7"/>
<circle cx="1512.7" cy="803.9" r="6.7"/>
<circle cx="1513.1" cy="800.1" r="6.7"/>
<circle cx="1513.5" cy="810.8" r="6.7"/>
<circle cx="1513.9" cy="801.6" r="6.7"/>
<circle cx="1514.3" cy="799.2" r="6.7"/>
<circle cx="1514.7" cy="787.3" r="6.7"/>
<circle cx="1515.1" cy="803.3" r="6.7"/>
<circle cx="1515.5" cy="786.3" r="6.7"/>
<circle cx="1515.9" cy="796.2" r="6.7"/>
<circle cx="1516.6" cy="780.9" r="6.7"/>
<circle cx="1517.0" cy="786.9" r="6.7"/>
<circle cx="1517.8" cy="790.5" r="6.7"/>
<circle cx="1518.6" cy="814.4" r="6.7"/>
<circle cx="1519.0" cy="791.2" r="6.7"/>
<circle cx="1519.4" cy="792.6" r="6.7"/>
<circle cx="1519.8" cy="796.1" r="6.7"/>
<circle cx="1520.2" cy="779.7" r="6.7"/>
<circle cx="1520.6" cy="792.3" r="6.7"/>
<circle cx="1521.0" cy="771.9" r="6.7"/>
<circle cx="1521.7" cy="783.8" r="6.7"/>
<circle cx="1522.1" cy="777.1" r="6.7"/>
<circle cx="1522.9" cy="795.5" r="6.7"/>
<circle cx="1523.7" cy="790.6" r="6.7"/>
<circle cx="1524.1" cy="788.8" r="6.7"/>
<circle cx="1524.5" cy="792.0" r="6.7"/>
<circle cx="1524.9" cy="785.8" r="6.7"/>
<circle cx="1525.3" cy="772.5" r="6.7"/>
<circle cx="1526.1" cy="797.1" r="6.7"/>
<circle cx="1526.5" cy="778.5" r="6.7"/>
<circle cx="1526.9" cy="782.8" r="6.7"/>
<circle cx="1527.6" cy="796.4" r="6.7"/>
<circle cx="1528.0" cy="790.1" r="6.7"/>
<circle cx="1528.4" cy="782.2" r="6.7"/>
<circle cx="1530.0" cy="776.0" r="6.7"/>
<circle cx="1530.4" cy="782.1" r="6.7"/>
<circle cx="1531.2" cy="766.8" r="6.7"/>
<circle cx="1532.3" cy="770.1" r="6.7"/>
<circle cx="1533.1" cy="771.3" r="6.7"/>
<circle cx="1533.5" cy="790.3" r="6.7"/>
<circle cx="1533.9" cy="766.7" r="6.7"/>
<circle cx="1534.3" cy="768.1" r="6.7"/>
<circle cx="1535.1" cy="756.7" r="6.7"/>
<circle cx="1535.5" cy="762.1" r="6.7"/>
<circle cx="1536.3" cy="770.2" r="6.7"/>
<circle cx="1536.7" cy="769.3" r="6.7"/>
<circle cx="1537.4" cy="779.4" r="6.7"/>
<circle cx="1538.2" cy="782.1" r="6.7"/>
<circle cx="1539.8" cy="770.5" r="6.7"/>
<circle cx="1540.2" cy="769.1" r="6.7"/>
<circle cx="1541.4" cy="761.3" r="6.7"/>
<circle cx="1541.8" cy="756.6" r="6.7"/>
<circle cx="1542.6" cy="767.5" r="6.7"/>
<circle cx="1542.9" cy="773.3" r="6.7"/>
<circle cx="1543.7" cy="772.4" r="6.7"/>
<circle cx="1544.1" cy="785.6" r="6.7"/>
<circle cx="1544.5" cy="758.1" r="6.7"/>
<circle cx="1545.7" cy="741.6" r="6.7"/>
<circle cx="1546.1" cy="759.0" r="6.7"/>
<circle cx="1546.9" cy="758.1" r="6.7"/>
<circle cx="1547.7" cy="754.6" r="6.7"/>
<circle cx="1548.0" cy="775.0" r="6.7"/>
<circle cx="1549.6" cy="758.8" r="6.7"/>
<circle cx="1550.4" cy="767.6" r="6.7"/>
<circle cx="1550.8" cy="757.7" r="6.7"/>
<circle cx="1551.6" cy="754.7" r="6.7"/>
<circle cx="1552.0" cy="750.8" r="6.7"/>
<circle cx="1552.4" cy="760.3" r="6.7"/>
<circle cx="1553.1" cy="749.5" r="6.7"/>
<circle cx="1553.5" cy="748.0" r="6.7"/>
<circle cx="1553.9" cy="734.5" r="6.7"/>
<circle cx="1554.7" cy="751.8" r="6.7"/>
<circle cx="1555.1" cy="742.8" r="6.7"/>
<circle cx="1555.5" cy="764.3" r="6.7"/>
<circle cx="1555.9" cy="760.3" r="6.7"/>
<circle cx="1556.3" cy="769.7" r="6.7"/>
<circle cx="1557.9" cy="757.1" r="6.7"/>
<circle cx="1558.6" cy="759.9" r="6.7"/>
<circle cx="1559.0" cy="750.1" r="6.7"/>
<circle cx="1560.2" cy="758.1" r="6.7"/>
<circle cx="1560.6" cy="748.0" r="6.7"/>
<circle cx="1562.2" cy="751.4" r="6.7"/>
<circle cx="1563.0" cy="758.8" r="6.7"/>
<circle cx="1563.4" cy="747.4" r="6.7"/>
<circle cx="1563.7" cy="775.7" r="6.7"/>
<circle cx="1564.1" cy="758.3" r="6.7"/>
<circle cx="1564.5" cy="748.3" r="6.7"/>
<circle cx="1564.9" cy="757.6" r="6.7"/>
<circle cx="1565.3" cy="754.3" r="6.7"/>
<circle cx="1565.7" cy="751.0" r="6.7"/>
<circle cx="1566.5" cy="746.1" r="6.7"/>
<circle cx="1566.9" cy="742.4" r="6.7"/>
<circle cx="1567.7" cy="755.6" r="6.7"/>
<circle cx="1568.5" cy="732.5" r="6.7"/>
<circle cx="1568.8" cy="754.3" r="6.7"/>
<circle cx="1570.0" cy="755.2" r="6.7"/>
<circle cx="1570.8" cy="734.9" r="6.7"/>
<circle cx="1571.2" cy="751.2" r="6.7"/>
<circle cx="1571.6" cy="743.1" r="6.7"/>
<circle cx="1572.0" cy="721.8" r="6.7"/>
<circle cx="1572.4" cy="757.0" r="6.7"/>
<circle cx="1573.2" cy="741.5" r="6.7"/>
<circle cx="1573.6" cy="736.0" r="6.7"/>
<circle cx="1574.0" cy="737.9" r="6.7"/>
<circle cx="1574.3" cy="739.3" r="6.7"/>
<circle cx="1574.7" cy="737.3" r="6.7"/>
<circle cx="1575.1" cy="734.2" r="6.7"/>
<circle cx="1575.5" cy="748.8" r="6.7"/>
<circle cx="1575.9" cy="751.3" r="6.7"/>
<circle cx="1576.7" cy="722.5" r="6.7"/>
<circle cx="1577.1" cy="735.4" r="6.7"/>
<circle cx="1577.5" cy="744.6" r="6.7"/>
<circle cx="1577.9" cy="743.1" r="6.7"/>
<circle cx="1578.7" cy="715.0" r="6.7"/>
<circle cx="1579.1" cy="736.2" r="6.7"/>
<circle cx="1579.4" cy="730.5" r="6.7"/>
<circle cx="1579.8" cy="753.6" r="6.7"/>
<circle cx="1580.6" cy="739.7" r="6.7"/>
<circle cx="1581.0" cy="723.4" r="6.7"/>
<circle cx="1581.4" cy="720.0" r="6.7"/>
<circle cx="1581.8" cy="748.6" r="6.7"/>
<circle cx="1583.0" cy="711.7" r="6.7"/>
<circle cx="1583.4" cy="724.8" r="6.7"/>
<circle cx="1583.8" cy="725.8" r="6.7"/>
<circle cx="1584.5" cy="710.6" r="6.7"/>
<circle cx="1585.3" cy="732.2" r="6.7"/>
<circle cx="1585.7" cy="709.2" r="6.7"/>
<circle cx="1586.1" cy="757.1" r="6.7"/>
<circle cx="1587.3" cy="729.7" r="6.7"/>
<circle cx="1587.7" cy="714.1" r="6.7"/>
<circle cx="1588.1" cy="725.5" r="6.7"/>
<circle cx="1589.3" cy="724.2" r="6.7"/>
<circle cx="1589.7" cy="707.8" r="6.7"/>
<circle cx="1590.4" cy="718.9" r="6.7"/>
<circle cx="1590.8" cy="728.0" r="6.7"/>
<circle cx="1591.2" cy="728.1" r="6.7"/>
<circle cx="1592.0" cy="706.4" r="6.7"/>
<circle cx="1592.4" cy="723.2" r="6.7"/>
<circle cx="1592.8" cy="726.4" r="6.7"/>
<circle cx="1593.2" cy="714.7" r="6.7"/>
<circle cx="1594.8" cy="705.0" r="6.7"/>
<circle cx="1595.5" cy="728.9" r="6.7"/>
<circle cx="1595.9" cy="711.8" r="6.7"/>
<circle cx="1596.7" cy="701.5" r="6.7"/>
<circle cx="1597.5" cy="720.4" r="6.7"/>
<circle cx="1597.9" cy="707.6" r="6.7"/>
<circle cx="1598.3" cy="705.8" r="6.7"/>
<circle cx="1598.7" cy="696.2" r="6.7"/>
<circle cx="1599.5" cy="715.5" r="6.7"/>
<circle cx="1600.6" cy="694.3" r="6.7"/>
<circle cx="1601.0" cy="704.8" r="6.7"/>
<circle cx="1601.4" cy="717.2" r="6.7"/>
<circle cx="1602.2" cy="700.2" r="6.7"/>
<circle cx="1603.0" cy="698.3" r="6.7"/>
<circle cx="1603.4" cy="696.8" r="6.7"/>
<circle cx="1604.2" cy="710.9" r="6.7"/>
<circle cx="1604.6" cy="707.5" r="6.7"/>
<circle cx="1605.4" cy="702.5" r="6.7"/>
<circle cx="1607.3" cy="713.5" r="6.7"/>
<circle cx="1607.7" cy="698.5" r="6.7"/>
<circle cx="1608.1" cy="692.9" r="6.7"/>
<circle cx="1608.9" cy="696.2" r="6.7"/>
<circle cx="1610.1" cy="698.0" r="6.7"/>
<circle cx="1611.2" cy="684.5" r="6.7"/>
<circle cx="1611.6" cy="704.7" r="6.7"/>
<circle cx="1612.0" cy="698.8" r="6.7"/>
<circle cx="1612.8" cy="685.2" r="6.7"/>
<circle cx="1613.2" cy="715.3" r="6.7"/>
<circle cx="1614.0" cy="683.9" r="6.7"/>
<circle cx="1614.4" cy="699.6" r="6.7"/>
<circle cx="1615.2" cy="706.6" r="6.7"/>
<circle cx="1615.6" cy="682.6" r="6.7"/>
<circle cx="1615.9" cy="682.6" r="6.7"/>
<circle cx="1616.3" cy="691.4" r="6.7"/>
<circle cx="1617.1" cy="706.7" r="6.7"/>
<circle cx="1617.5" cy="699.3" r="6.7"/>
<circle cx="1618.7" cy="688.3" r="6.7"/>
<circle cx="1619.1" cy="685.9" r="6.7"/>
<circle cx="1620.7" cy="678.2" r="6.7"/>
<circle cx="1622.2" cy="688.3" r="6.7"/>
<circle cx="1622.6" cy="677.4" r="6.7"/>
<circle cx="1623.4" cy="683.7" r="6.7"/>
<circle cx="1624.2" cy="701.9" r="6.7"/>
<circle cx="1625.0" cy="685.2" r="6.7"/>
<circle cx="1625.8" cy="697.0" r="6.7"/>
<circle cx="1626.5" cy="679.6" r="6.7"/>
<circle cx="1627.3" cy="673.0" r="6.7"/>
<circle cx="1627.7" cy="676.0" r="6.7"/>
<circle cx="1628.9" cy="685.0" r="6.7"/>
<circle cx="1629.3" cy="679.5" r="6.7"/>
<circle cx="1633.2" cy="692.1" r="6.7"/>
<circle cx="1634.0" cy="678.6" r="6.7"/>
<circle cx="1634.4" cy="660.5" r="6.7"/>
<circle cx="1635.2" cy="663.5" r="6.7"/>
<circle cx="1637.5" cy="664.5" r="6.7"/>
<circle cx="1638.3" cy="659.5" r="6.7"/>
<circle cx="1639.1" cy="653.0" r="6.7"/>
<circle cx="1639.5" cy="667.0" r="6.7"/>
<circle cx="1639.9" cy="678.4" r="6.7"/>
<circle cx="1641.9" cy="664.8" r="6.7"/>
<circle cx="1643.4" cy="653.9" r="6.7"/>
<circle cx="1644.2" cy="683.4" r="6.7"/>
<circle cx="1645.0" cy="667.6" r="6.7"/>
<circle cx="1645.4" cy="661.0" r="6.7"/>
<circle cx="1646.6" cy="661.8" r="6.7"/>
<circle cx="1647.7" cy="655.7" r="6.7"/>
<circle cx="1649.7" cy="662.3" r="6.7"/>
<circle cx="1650.5" cy="663.8" r="6.7"/>
<circle cx="1650.9" cy="656.2" r="6.7"/>
<circle cx="1652.1" cy="685.5" r="6.7"/>
<circle cx="1653.2" cy="654.4" r="6.7"/>
<circle cx="1654.0" cy="645.0" r="6.7"/>
<circle cx="1655.2" cy="658.5" r="6.7"/>
<circle cx="1656.8" cy="633.4" r="6.7"/>
<circle cx="1657.6" cy="661.5" r="6.7"/>
<circle cx="1658.3" cy="660.4" r="6.7"/>
<circle cx="1658.7" cy="668.0" r="6.7"/>
<circle cx="1659.9" cy="647.2" r="6.7"/>
<circle cx="1663.4" cy="650.0" r="6.7"/>
<circle cx="1664.6" cy="658.1" r="6.7"/>
<circle cx="1665.0" cy="659.6" r="6.7"/>
<circle cx="1665.8" cy="644.3" r="6.7"/>
<circle cx="1668.5" cy="625.8" r="6.7"/>
<circle cx="1669.3" cy="634.1" r="6.7"/>
<circle cx="1670.5" cy="632.0" r="6.7"/>
<circle cx="1671.3" cy="640.0" r="6.7"/>
<circle cx="1671.7" cy="630.6" r="6.7"/>
<circle cx="1673.3" cy="646.9" r="6.7"/>
<circle cx="1673.6" cy="642.1" r="6.7"/>
<circle cx="1674.0" cy="637.5" r="6.7"/>
<circle cx="1675.2" cy="628.9" r="6.7"/>
<circle cx="1677.2" cy="623.2" r="6.7"/>
<circle cx="1679.1" cy="647.3" r="6.7"/>
<circle cx="1679.9" cy="636.6" r="6.7"/>
<circle cx="1680.7" cy="623.7" r="6.7"/>
<circle cx="1681.1" cy="621.9" r="6.7"/>
<circle cx="1681.5" cy="617.1" r="6.7"/>
<circle cx="1683.5" cy="632.8" r="6.7"/>
<circle cx="1686.6" cy="639.4" r="6.7"/>
<circle cx="1687.4" cy="614.3" r="6.7"/>
<circle cx="1689.0" cy="624.0" r="6.7"/>
<circle cx="1692.1" cy="608.2" r="6.7"/>
<circle cx="1692.9" cy="626.5" r="6.7"/>
<circle cx="1696.0" cy="619.6" r="6.7"/>
<circle cx="1696.8" cy="600.8" r="6.7"/>
<circle cx="1697.6" cy="611.6" r="6.7"/>
<circle cx="1698.0" cy="626.0" r="6.7"/>
<circle cx="1699.6" cy="606.3" r="6.7"/>
<circle cx="1699.9" cy="615.0" r="6.7"/>
<circle cx="1700.3" cy="599.7" r="6.7"/>
<circle cx="1701.5" cy="607.0" r="6.7"/>
<circle cx="1701.9" cy="615.8" r="6.7"/>
<circle cx="1703.1" cy="605.9" r="6.7"/>
<circle cx="1704.7" cy="605.8" r="6.7"/>
<circle cx="1705.8" cy="616.9" r="6.7"/>
<circle cx="1707.8" cy="579.3" r="6.7"/>
<circle cx="1709.8" cy="606.9" r="6.7"/>
<circle cx="1712.1" cy="606.0" r="6.7"/>
<circle cx="1712.5" cy="599.6" r="6.7"/>
<circle cx="1713.3" cy="599.7" r="6.7"/>
<circle cx="1713.7" cy="612.8" r="6.7"/>
<circle cx="1716.4" cy="594.1" r="6.7"/>
<circle cx="1718.0" cy="597.0" r="6.7"/>
<circle cx="1719.6" cy="586.9" r="6.7"/>
<circle cx="1721.1" cy="585.0" r="6.7"/>
<circle cx="1724.3" cy="576.0" r="6.7"/>
<circle cx="1725.1" cy="586.0" r="6.7"/>
<circle cx="1729.0" cy="574.6" r="6.7"/>
<circle cx="1730.2" cy="571.8" r="6.7"/>
<circle cx="1731.0" cy="569.9" r="6.7"/>
<circle cx="1731.3" cy="586.4" r="6.7"/>
<circle cx="1732.9" cy="577.2" r="6.7"/>
<circle cx="1733.7" cy="582.1" r="6.7"/>
<circle cx="1734.1" cy="590.7" r="6.7"/>
<circle cx="1735.7" cy="576.0" r="6.7"/>
<circle cx="1737.6" cy="583.2" r="6.7"/>
<circle cx="1738.4" cy="560.5" r="6.7"/>
<circle cx="1738.8" cy="570.0" r="6.7"/>
<circle cx="1739.2" cy="586.7" r="6.7"/>
<circle cx="1740.8" cy="545.9" r="6.7"/>
<circle cx="1741.6" cy="562.0" r="6.7"/>
<circle cx="1742.3" cy="580.5" r="6.7"/>
<circle cx="1743.9" cy="549.3" r="6.7"/>
<circle cx="1744.3" cy="550.2" r="6.7"/>
<circle cx="1744.7" cy="564.2" r="6.7"/>
<circle cx="1745.5" cy="560.5" r="6.7"/>
<circle cx="1746.3" cy="556.7" r="6.7"/>
<circle cx="1748.6" cy="549.8" r="6.7"/>
<circle cx="1749.8" cy="561.4" r="6.7"/>
<circle cx="1751.4" cy="564.1" r="6.7"/>
<circle cx="1752.1" cy="545.7" r="6.7"/>
<circle cx="1752.9" cy="560.8" r="6.7"/>
<circle cx="1753.7" cy="563.6" r="6.7"/>
<circle cx="1754.5" cy="580.0" r="6.7"/>
<circle cx="1755.3" cy="551.2" r="6.7"/>
<circle cx="1760.8" cy="559.2" r="6.7"/>
<circle cx="1762.0" cy="538.4" r="6.7"/>
<circle cx="1764.3" cy="575.2" r="6.7"/>
<circle cx="1768.2" cy="540.3" r="6.7"/>
<circle cx="1771.4" cy="535.6" r="6.7"/>
<circle cx="1773.3" cy="553.2" r="6.7"/>
<circle cx="1776.1" cy="533.1" r="6.7"/>
<circle cx="1776.9" cy="535.5" r="6.7"/>
<circle cx="1777.7" cy="548.8" r="6.7"/>
<circle cx="1780.0" cy="533.9" r="6.7"/>
<circle cx="1783.5" cy="526.1" r="6.7"/>
<circle cx="1784.3" cy="517.5" r="6.7"/>
<circle cx="1786.3" cy="517.6" r="6.7"/>
<circle cx="1788.3" cy="514.1" r="6.7"/>
<circle cx="1789.0" cy="518.6" r="6.7"/>
<circle cx="1791.0" cy="511.7" r="6.7"/>
<circle cx="1791.4" cy="527.7" r="6.7"/>
<circle cx="1792.2" cy="516.2" r="6.7"/>
<circle cx="1794.5" cy="495.9" r="6.7"/>
<circle cx="1794.9" cy="506.5" r="6.7"/>
<circle cx="1795.7" cy="513.7" r="6.7"/>
<circle cx="1796.9" cy="514.3" r="6.7"/>
<circle cx="1801.6" cy="520.3" r="6.7"/>
<circle cx="1802.4" cy="513.9" r="6.7"/>
<circle cx="1803.6" cy="498.8" r="6.7"/>
<circle cx="1804.0" cy="506.0" r="6.7"/>
<circle cx="1804.4" cy="497.8" r="6.7"/>
<circle cx="1805.9" cy="502.4" r="6.7"/>
<circle cx="1807.9" cy="491.2" r="6.7"/>
<circle cx="1808.7" cy="497.9" r="6.7"/>
<circle cx="1809.1" cy="504.7" r="6.7"/>
<circle cx="1810.2" cy="510.2" r="6.7"/>
<circle cx="1811.8" cy="487.4" r="6.7"/>
<circle cx="1812.6" cy="506.2" r="6.7"/>
<circle cx="1813.0" cy="515.8" r="6.7"/>
<circle cx="1815.3" cy="487.5" r="6.7"/>
<circle cx="1818.9" cy="492.0" r="6.7"/>
<circle cx="1819.7" cy="485.4" r="6.7"/>
<circle cx="1821.6" cy="482.4" r="6.7"/>
<circle cx="1828.7" cy="487.3" r="6.7"/>
<circle cx="1829.5" cy="488.5" r="6.7"/>
<circle cx="1831.0" cy="480.2" r="6.7"/>
<circle cx="1831.8" cy="471.2" r="6.7"/>
<circle cx="1833.0" cy="477.9" r="6.7"/>
<circle cx="1837.3" cy="469.9" r="6.7"/>
<circle cx="1837.7" cy="476.0" r="6.7"/>
<circle cx="1841.2" cy="469.7" r="6.7"/>
<circle cx="1843.6" cy="456.8" r="6.7"/>
<circle cx="1846.7" cy="465.7" r="6.7"/>
<circle cx="1848.3" cy="479.3" r="6.7"/>
<circle cx="1855.4" cy="455.0" r="6.7"/>
<circle cx="1856.2" cy="448.3" r="6.7"/>
<circle cx="1856.9" cy="477.0" r="6.7"/>
<circle cx="1859.7" cy="454.8" r="6.7"/>
<circle cx="1867.2" cy="461.4" r="6.7"/>
<circle cx="1867.9" cy="437.1" r="6.7"/>
<circle cx="1868.7" cy="441.9" r="6.7"/>
<circle cx="1869.9" cy="422.9" r="6.7"/>
<circle cx="1873.4" cy="432.8" r="6.7"/>
<circle cx="1873.8" cy="449.7" r="6.7"/>
<circle cx="1877.4" cy="425.0" r="6.7"/>
<circle cx="1879.7" cy="438.0" r="6.7"/>
<circle cx="1881.7" cy="437.3" r="6.7"/>
<circle cx="1883.2" cy="433.8" r="6.7"/>
<circle cx="1885.2" cy="427.8" r="6.7"/>
<circle cx="1893.1" cy="422.3" r="6.7"/>
<circle cx="1893.4" cy="424.5" r="6.7"/>
<circle cx="1895.4" cy="429.4" r="6.7"/>
<circle cx="1897.4" cy="404.8" r="6.7"/>
<circle cx="1902.9" cy="423.7" r="6.7"/>
<circle cx="1903.7" cy="384.8" r="6.7"/>
<circle cx="1905.6" cy="406.2" r="6.7"/>
<circle cx="1906.4" cy="409.2" r="6.7"/>
<circle cx="1907.2" cy="409.0" r="6.7"/>
<circle cx="1908.0" cy="398.1" r="6.7"/>
<circle cx="1911.1" cy="399.5" r="6.7"/>
<circle cx="1911.5" cy="401.4" r="6.7"/>
<circle cx="1916.6" cy="391.5" r="6.7"/>
<circle cx="1922.9" cy="387.8" r="6.7"/>
<circle cx="1927.2" cy="381.4" r="6.7"/>
<circle cx="1938.6" cy="364.2" r="6.7"/>
<circle cx="1942.1" cy="371.1" r="6.7"/>
<circle cx="1943.3" cy="352.7" r="6.7"/>
<circle cx="1949.2" cy="380.1" r="6.7"/>
<circle cx="1954.3" cy="367.4" r="6.7"/>
<circle cx="1955.5" cy="376.3" r="6.7"/>
<circle cx="1968.8" cy="366.3" r="6.7"/>
<circle cx="1975.1" cy="327.3" r="6.7"/>
<circle cx="1982.2" cy="319.2" r="6.7"/>
<circle cx="1982.5" cy="312.3" r="6.7"/>
<circle cx="1988.8" cy="320.1" r="6.7"/>
<circle cx="1993.9" cy="326.8" r="6.7"/>
<circle cx="1997.9" cy="304.3" r="6.7"/>
<circle cx="2007.7" cy="310.1" r="6.7"/>
<circle cx="2017.1" cy="294.0" r="6.7"/>
<circle cx="2018.7" cy="295.2" r="6.7"/>
<circle cx="2021.0" cy="281.2" r="6.7"/>
<circle cx="2023.0" cy="276.9" r="6.7"/>
<circle cx="2024.2" cy="283.1" r="6.7"/>
<circle cx="2024.5" cy="291.8" r="6.7"/>
<circle cx="2032.8" cy="295.6" r="6.7"/>
<circle cx="2033.2" cy="296.9" r="6.7"/>
<circle cx="2039.1" cy="267.3" r="6.7"/>
<circle cx="2039.9" cy="269.3" r="6.7"/>
<circle cx="2050.4" cy="245.7" r="6.7"/>
<circle cx="2053.6" cy="258.1" r="6.7"/>
<circle cx="2066.1" cy="233.1" r="6.7"/>
<circle cx="2068.9" cy="248.3" r="6.7"/>
<circle cx="2070.1" cy="254.3" r="6.7"/>
<circle cx="2094.0" cy="217.2" r="6.7"/>
<circle cx="2101.1" cy="198.1" r="6.7"/>
<circle cx="2105.4" cy="196.6" r="6.7"/>
<circle cx="2107.0" cy="225.8" r="6.7"/>
<circle cx="2108.1" cy="202.7" r="6.7"/>
<circle cx="2124.6" cy="177.7" r="6.7"/>
<circle cx="2138.8" cy="159.2" r="6.7"/>
<circle cx="2145.4" cy="165.7" r="6.7"/>
<circle cx="2165.1" cy="133.5" r="6.7"/>
<circle cx="2168.6" cy="134.8" r="6.7"/>
</g>
<g fill="none" stroke="rgba(0,0,255,0.5)" stroke-width="3.1">
<circle cx="372.8" cy="1783.4" r="7"/>
<circle cx="509.2" cy="1692.9" r="7"/>
<circle cx="515.0" cy="1700.5" r="7"/>
<circle cx="527.8" cy="1757.9" r="7"/>
<circle cx="511.7" cy="1774.5" r="7"/>
<circle cx="575.5" cy="1683.9" r="7"/>
<circle cx="628.6" cy="1635.5" r="7"/>
<circle cx="649.5" cy="1626.5" r="7"/>
<circle cx="681.4" cy="1631.6" r="7"/>
<circle cx="714.5" cy="1581.9" r="7"/>
<circle cx="745.2" cy="1610.7" r="7"/>
<circle cx="752.0" cy="1583.2" r="7"/>
<circle cx="802.5" cy="1610.7" r="7"/>
<circle cx="1024.4" cy="1153.2" r="7"/>
<circle cx="1056.1" cy="1167.2" r="7"/>
<circle cx="1078.6" cy="1163.2" r="7"/>
<circle cx="1090.5" cy="1157.9" r="7"/>
<circle cx="1097.1" cy="1155.3" r="7"/>
<circle cx="1061.4" cy="1175.1" r="7"/>
<circle cx="1049.5" cy="1185.7" r="7"/>
<circle cx="1024.4" cy="1192.3" r="7"/>
<circle cx="1021.7" cy="1198.9" r="7"/>
<circle cx="1033.6" cy="1206.8" r="7"/>
<circle cx="1038.9" cy="1209.5" r="7"/>
<circle cx="1065.4" cy="1196.3" r="7"/>
<circle cx="1065.4" cy="1198.9" r="7"/>
<circle cx="955.6" cy="1249.9" r="7"/>
<circle cx="995.3" cy="1267.7" r="7"/>
<circle cx="996.6" cy="1271.6" r="7"/>
<circle cx="927.9" cy="1281.7" r="7"/>
<circle cx="868.4" cy="1306.5" r="7"/>
<circle cx="927.9" cy="1325.0" r="7"/>
<circle cx="942.4" cy="1327.7" r="7"/>
<circle cx="1033.6" cy="1311.8" r="7"/>
<circle cx="1027.0" cy="1350.4" r="7"/>
<circle cx="901.4" cy="1350.4" r="7"/>
<circle cx="978.1" cy="1294.9" r="7"/>
<circle cx="975.5" cy="1302.0" r="7"/>
<circle cx="988.7" cy="1340.4" r="7"/>
<circle cx="959.6" cy="1345.7" r="7"/>
<circle cx="1075.9" cy="1273.0" r="7"/>
<circle cx="1087.8" cy="1273.0" r="7"/>
<circle cx="1046.9" cy="1232.0" r="7"/>
<circle cx="1054.8" cy="1221.4" r="7"/>
<circle cx="1091.8" cy="1255.8" r="7"/>
<circle cx="818.1" cy="1372.6" r="7"/>
<circle cx="827.4" cy="1384.8" r="7"/>
<circle cx="861.8" cy="1382.2" r="7"/>
<circle cx="901.4" cy="1382.7" r="7"/>
<circle cx="882.9" cy="1390.6" r="7"/>
<circle cx="949.0" cy="1395.4" r="7"/>
<circle cx="838.0" cy="1415.7" r="7"/>
<circle cx="831.4" cy="1421.0" r="7"/>
<circle cx="816.8" cy="1430.3" r="7"/>
<circle cx="793.0" cy="1445.6" r="7"/>
<circle cx="815.5" cy="1451.4" r="7"/>
<circle cx="869.7" cy="1415.7" r="7"/>
<circle cx="873.7" cy="1448.8" r="7"/>
<circle cx="882.4" cy="1464.6" r="7"/>
<circle cx="762.6" cy="1468.6" r="7"/>
<circle cx="776.6" cy="1480.5" r="7"/>
<circle cx="726.4" cy="1498.5" r="7"/>
<circle cx="746.7" cy="1501.1" r="7"/>
<circle cx="678.8" cy="1505.6" r="7"/>
<circle cx="664.8" cy="1535.5" r="7"/>
<circle cx="748.1" cy="1530.8" r="7"/>
<circle cx="773.2" cy="1544.0" r="7"/>
<circle cx="782.4" cy="1545.3" r="7"/>
<circle cx="715.0" cy="1581.0" r="7"/>
<circle cx="752.0" cy="1583.6" r="7"/>
<circle cx="745.4" cy="1610.1" r="7"/>
<circle cx="648.9" cy="1625.9" r="7"/>
<circle cx="627.8" cy="1634.4" r="7"/>
<circle cx="682.0" cy="1631.2" r="7"/>
<circle cx="1108.4" cy="1028.2" r="7"/>
<circle cx="1115.0" cy="1055.5" r="7"/>
<circle cx="1088.6" cy="1082.4" r="7"/>
<circle cx="1121.6" cy="1078.5" r="7"/>
<circle cx="1120.3" cy="1082.4" r="7"/>
<circle cx="1137.5" cy="1097.0" r="7"/>
<circle cx="1024.3" cy="1150.7" r="7"/>
<circle cx="1055.5" cy="1166.5" r="7"/>
<circle cx="1063.5" cy="1176.3" r="7"/>
<circle cx="1066.1" cy="1173.7" r="7"/>
<circle cx="1048.9" cy="1185.6" r="7"/>
<circle cx="1023.8" cy="1192.2" r="7"/>
<circle cx="1019.8" cy="1198.8" r="7"/>
<circle cx="1034.4" cy="1206.7" r="7"/>
<circle cx="1039.7" cy="1209.4" r="7"/>
<circle cx="1064.8" cy="1196.1" r="7"/>
<circle cx="1076.7" cy="1163.1" r="7"/>
<circle cx="1085.9" cy="1145.9" r="7"/>
<circle cx="1095.2" cy="1156.5" r="7"/>
<circle cx="1104.4" cy="1141.9" r="7"/>
<circle cx="1111.1" cy="1130.0" r="7"/>
<circle cx="1129.6" cy="1122.1" r="7"/>
<circle cx="1141.5" cy="1116.8" r="7"/>
<circle cx="1132.2" cy="1206.7" r="7"/>
<circle cx="1111.1" cy="1267.5" r="7"/>
<circle cx="1101.8" cy="1251.7" r="7"/>
<circle cx="1087.3" cy="1272.8" r="7"/>
<circle cx="1075.4" cy="1272.8" r="7"/>
<circle cx="1047.6" cy="1233.2" r="7"/>
<circle cx="1056.8" cy="1222.6" r="7"/>
<circle cx="1033.1" cy="1311.2" r="7"/>
<circle cx="1026.4" cy="1349.5" r="7"/>
<circle cx="1193.0" cy="1028.2" r="7"/>
<circle cx="1179.8" cy="1049.4" r="7"/>
<circle cx="1201.0" cy="1058.6" r="7"/>
<circle cx="1182.4" cy="1073.2" r="7"/>
<circle cx="1206.2" cy="1069.2" r="7"/>
<circle cx="1230.0" cy="1014.2" r="7"/>
<circle cx="1243.3" cy="996.5" r="7"/>
<circle cx="1248.5" cy="975.4" r="7"/>
<circle cx="1264.4" cy="929.6" r="7"/>
<circle cx="1269.7" cy="978.0" r="7"/>
<circle cx="1280.3" cy="960.8" r="7"/>
<circle cx="1296.1" cy="963.5" r="7"/>
<circle cx="1285.6" cy="976.7" r="7"/>
<circle cx="1314.6" cy="943.6" r="7"/>
<circle cx="1319.9" cy="919.8" r="7"/>
<circle cx="1330.5" cy="950.2" r="7"/>
<circle cx="1343.7" cy="921.2" r="7"/>
<circle cx="1354.3" cy="907.9" r="7"/>
<circle cx="1386.0" cy="1021.1" r="7"/>
<circle cx="1342.4" cy="1032.2" r="7"/>
<circle cx="1342.4" cy="1004.4" r="7"/>
<circle cx="1376.8" cy="987.3" r="7"/>
<circle cx="1384.7" cy="978.0" r="7"/>
<circle cx="1370.2" cy="976.7" r="7"/>
<circle cx="1417.8" cy="946.3" r="7"/>
<circle cx="1411.2" cy="930.4" r="7"/>
<circle cx="1436.3" cy="917.2" r="7"/>
<circle cx="1452.1" cy="902.6" r="7"/>
<circle cx="1288.2" cy="1071.9" r="7"/>
<circle cx="1260.4" cy="1098.3" r="7"/>
<circle cx="1273.7" cy="1101.0" r="7"/>
<circle cx="1282.9" cy="1097.0" r="7"/>
<circle cx="1294.8" cy="1101.0" r="7"/>
<circle cx="1234.0" cy="1104.9" r="7"/>
<circle cx="1224.7" cy="1126.1" r="7"/>
<circle cx="1232.7" cy="1131.4" r="7"/>
<circle cx="1195.7" cy="1163.1" r="7"/>
<circle cx="1182.4" cy="1160.4" r="7"/>
<circle cx="1161.3" cy="1167.1" r="7"/>
<circle cx="1298.8" cy="963.5" r="7"/>
<circle cx="1355.6" cy="988.6" r="7"/>
<circle cx="1595.7" cy="629.6" r="7"/>
<circle cx="1611.5" cy="628.2" r="7"/>
<circle cx="1639.3" cy="637.0" r="7"/>
<circle cx="1669.7" cy="595.2" r="7"/>
<circle cx="1698.8" cy="564.8" r="7"/>
<circle cx="1726.5" cy="548.9" r="7"/>
<circle cx="1743.7" cy="539.7" r="7"/>
<circle cx="1759.6" cy="507.9" r="7"/>
<circle cx="1778.1" cy="511.9" r="7"/>
<circle cx="1553.4" cy="679.8" r="7"/>
<circle cx="1561.3" cy="673.2" r="7"/>
<circle cx="1585.1" cy="673.2" r="7"/>
<circle cx="1611.5" cy="653.4" r="7"/>
<circle cx="1619.5" cy="645.4" r="7"/>
<circle cx="1520.3" cy="719.5" r="7"/>
<circle cx="1496.5" cy="731.4" r="7"/>
<circle cx="1508.4" cy="731.4" r="7"/>
<circle cx="1516.3" cy="760.4" r="7"/>
<circle cx="1479.3" cy="768.4" r="7"/>
<circle cx="1471.4" cy="775.0" r="7"/>
<circle cx="1459.5" cy="784.2" r="7"/>
<circle cx="1464.8" cy="782.9" r="7"/>
<circle cx="1442.3" cy="813.3" r="7"/>
<circle cx="1427.8" cy="826.5" r="7"/>
<circle cx="1400.0" cy="798.8" r="7"/>
<circle cx="1413.2" cy="843.7" r="7"/>
<circle cx="1529.6" cy="735.3" r="7"/>
<circle cx="1548.1" cy="708.9" r="7"/>
<circle cx="1749.0" cy="658.6" r="7"/>
<circle cx="1747.7" cy="645.4" r="7"/>
<circle cx="1801.9" cy="657.3" r="7"/>
<circle cx="1788.7" cy="705.7" r="7"/>
<circle cx="1735.8" cy="707.6" r="7"/>
<circle cx="1685.6" cy="706.2" r="7"/>
<circle cx="1692.2" cy="694.3" r="7"/>
<circle cx="1708.0" cy="682.4" r="7"/>
<circle cx="1677.6" cy="681.1" r="7"/>
<circle cx="1660.4" cy="686.4" r="7"/>
<circle cx="1705.4" cy="661.3" r="7"/>
<circle cx="1730.5" cy="629.6" r="7"/>
<circle cx="1750.3" cy="603.1" r="7"/>
<circle cx="1762.2" cy="583.3" r="7"/>
<circle cx="1783.4" cy="579.3" r="7"/>
<circle cx="1801.9" cy="559.5" r="7"/>
<circle cx="1820.4" cy="556.8" r="7"/>
<circle cx="1852.1" cy="552.9" r="7"/>
<circle cx="1854.8" cy="518.5" r="7"/>
<circle cx="1864.0" cy="527.8" r="7"/>
<circle cx="1820.4" cy="529.1" r="7"/>
<circle cx="1628.7" cy="756.5" r="7"/>
<circle cx="1647.2" cy="732.7" r="7"/>
<circle cx="1632.7" cy="731.4" r="7"/>
<circle cx="1608.9" cy="764.4" r="7"/>
<circle cx="1575.8" cy="798.8" r="7"/>
<circle cx="1575.8" cy="813.3" r="7"/>
<circle cx="1566.6" cy="788.2" r="7"/>
<circle cx="1552.0" cy="838.4" r="7"/>
<circle cx="1520.3" cy="867.5" r="7"/>
<circle cx="1525.6" cy="851.7" r="7"/>
<circle cx="1495.2" cy="871.5" r="7"/>
<circle cx="1487.3" cy="862.2" r="7"/>
<circle cx="1452.9" cy="899.3" r="7"/>
<circle cx="1437.0" cy="917.8" r="7"/>
<circle cx="1417.2" cy="944.2" r="7"/>
<circle cx="2183.2" cy="99.7" r="7"/>
<circle cx="2069.5" cy="123.5" r="7"/>
<circle cx="2074.0" cy="177.7" r="7"/>
<circle cx="2032.5" cy="212.8" r="7"/>
<circle cx="2056.3" cy="217.3" r="7"/>
<circle cx="2119.8" cy="167.1" r="7"/>
<circle cx="2111.8" cy="179.0" r="7"/>
<circle cx="2088.0" cy="202.8" r="7"/>
<circle cx="2097.3" cy="202.8" r="7"/>
<circle cx="2105.2" cy="194.8" r="7"/>
<circle cx="2114.5" cy="210.7" r="7"/>
<circle cx="2123.7" cy="212.0" r="7"/>
<circle cx="2131.7" cy="210.7" r="7"/>
<circle cx="2114.5" cy="229.2" r="7"/>
<circle cx="2154.1" cy="204.1" r="7"/>
<circle cx="2154.1" cy="221.3" r="7"/>
<circle cx="2171.3" cy="196.2" r="7"/>
<circle cx="2174.0" cy="180.3" r="7"/>
<circle cx="2188.5" cy="155.2" r="7"/>
<circle cx="2199.1" cy="134.0" r="7"/>
<circle cx="2170.0" cy="173.7" r="7"/>
<circle cx="2176.6" cy="176.3" r="7"/>
<circle cx="2020.6" cy="250.9" r="7"/>
<circle cx="2032.5" cy="249.1" r="7"/>
<circle cx="1996.3" cy="257.8" r="7"/>
<circle cx="2055.0" cy="241.1" r="7"/>
<circle cx="2060.3" cy="231.9" r="7"/>
<circle cx="2051.0" cy="271.5" r="7"/>
<circle cx="2055.0" cy="279.5" r="7"/>
<circle cx="1969.1" cy="285.3" r="7"/>
<circle cx="1979.6" cy="307.2" r="7"/>
<circle cx="1975.7" cy="311.2" r="7"/>
<circle cx="2031.2" cy="308.5" r="7"/>
<circle cx="2032.5" cy="311.2" r="7"/>
<circle cx="2069.5" cy="308.5" r="7"/>
<circle cx="2012.7" cy="333.7" r="7"/>
<circle cx="2023.3" cy="341.6" r="7"/>
<circle cx="2028.5" cy="346.9" r="7"/>
<circle cx="1986.2" cy="358.8" r="7"/>
<circle cx="1995.5" cy="358.8" r="7"/>
<circle cx="1963.8" cy="366.7" r="7"/>
<circle cx="1974.3" cy="393.2" r="7"/>
<circle cx="1987.6" cy="393.2" r="7"/>
<circle cx="1938.6" cy="401.1" r="7"/>
<circle cx="1938.6" cy="406.4" r="7"/>
<circle cx="1913.5" cy="360.1" r="7"/>
<circle cx="1896.3" cy="369.4" r="7"/>
<circle cx="1885.8" cy="372.0" r="7"/>
<circle cx="1881.8" cy="378.6" r="7"/>
<circle cx="1863.3" cy="401.1" r="7"/>
<circle cx="1872.5" cy="406.4" r="7"/>
<circle cx="1838.2" cy="427.5" r="7"/>
<circle cx="1834.2" cy="428.9" r="7"/>
<circle cx="1842.1" cy="428.9" r="7"/>
<circle cx="1848.7" cy="424.9" r="7"/>
<circle cx="1906.9" cy="427.5" r="7"/>
<circle cx="1922.8" cy="431.5" r="7"/>
<circle cx="1921.5" cy="438.1" r="7"/>
<circle cx="1917.5" cy="424.9" r="7"/>
<circle cx="1954.5" cy="434.1" r="7"/>
<circle cx="1895.0" cy="447.4" r="7"/>
<circle cx="1909.6" cy="463.2" r="7"/>
<circle cx="1819.7" cy="450.0" r="7"/>
<circle cx="1784.0" cy="464.5" r="7"/>
<circle cx="1795.9" cy="467.2" r="7"/>
<circle cx="1867.3" cy="461.9" r="7"/>
<circle cx="1877.8" cy="477.8" r="7"/>
<circle cx="1856.7" cy="481.7" r="7"/>
<circle cx="1854.0" cy="496.3" r="7"/>
<circle cx="1855.4" cy="516.1" r="7"/>
<circle cx="1864.6" cy="525.4" r="7"/>
<circle cx="1819.7" cy="530.7" r="7"/>
<circle cx="1815.7" cy="530.7" r="7"/>
<circle cx="1852.7" cy="550.5" r="7"/>
<circle cx="1821.0" cy="555.8" r="7"/>
<circle cx="1802.5" cy="557.1" r="7"/>
<circle cx="2115.8" cy="255.7" r="7"/>
<circle cx="1115.7" cy="996.4" r="7"/>
<circle cx="982.8" cy="1311.8" r="7"/>
<circle cx="992.3" cy="1293.8" r="7"/>
<circle cx="992.7" cy="1308.6" r="7"/>
<circle cx="1016.6" cy="1282.0" r="7"/>
<circle cx="1017.0" cy="1252.4" r="7"/>
<circle cx="1017.8" cy="1277.3" r="7"/>
<circle cx="1019.3" cy="1287.3" r="7"/>
<circle cx="1023.7" cy="1286.9" r="7"/>
<circle cx="1024.1" cy="1278.4" r="7"/>
<circle cx="1025.6" cy="1282.5" r="7"/>
<circle cx="1029.6" cy="1248.0" r="7"/>
<circle cx="1032.3" cy="1257.5" r="7"/>
<circle cx="1040.5" cy="1247.9" r="7"/>
<circle cx="1042.1" cy="1283.1" r="7"/>
<circle cx="1048.4" cy="1231.5" r="7"/>
<circle cx="1050.0" cy="1236.2" r="7"/>
<circle cx="1050.7" cy="1241.3" r="7"/>
<circle cx="1056.2" cy="1272.1" r="7"/>
<circle cx="1062.1" cy="1219.9" r="7"/>
<circle cx="1062.5" cy="1252.9" r="7"/>
<circle cx="1064.5" cy="1260.1" r="7"/>
<circle cx="1066.1" cy="1243.3" r="7"/>
<circle cx="1066.4" cy="1199.0" r="7"/>
<circle cx="1070.8" cy="1213.5" r="7"/>
<circle cx="1072.3" cy="1217.9" r="7"/>
<circle cx="1075.5" cy="1228.1" r="7"/>
<circle cx="1076.7" cy="1210.6" r="7"/>
<circle cx="1079.8" cy="1223.3" r="7"/>
<circle cx="1080.2" cy="1236.1" r="7"/>
<circle cx="1082.5" cy="1213.4" r="7"/>
<circle cx="1083.7" cy="1199.3" r="7"/>
<circle cx="1084.5" cy="1247.5" r="7"/>
<circle cx="1084.9" cy="1224.7" r="7"/>
<circle cx="1088.8" cy="1187.0" r="7"/>
<circle cx="1091.2" cy="1172.6" r="7"/>
<circle cx="1094.3" cy="1223.1" r="7"/>
<circle cx="1095.9" cy="1205.7" r="7"/>
<circle cx="1100.2" cy="1186.6" r="7"/>
<circle cx="1101.4" cy="1230.9" r="7"/>
<circle cx="1102.2" cy="1188.0" r="7"/>
<circle cx="1103.0" cy="1180.5" r="7"/>
<circle cx="1106.5" cy="1143.6" r="7"/>
<circle cx="1106.9" cy="1191.7" r="7"/>
<circle cx="1107.7" cy="1176.5" r="7"/>
<circle cx="1110.0" cy="1182.3" r="7"/>
<circle cx="1111.6" cy="1160.0" r="7"/>
<circle cx="1113.5" cy="1166.3" r="7"/>
<circle cx="1116.7" cy="1195.2" r="7"/>
<circle cx="1118.3" cy="1154.1" r="7"/>
<circle cx="1119.0" cy="1170.1" r="7"/>
<circle cx="1120.2" cy="1180.3" r="7"/>
<circle cx="1123.0" cy="1128.9" r="7"/>
<circle cx="1124.1" cy="1174.7" r="7"/>
<circle cx="1126.1" cy="1169.6" r="7"/>
<circle cx="1127.3" cy="1201.2" r="7"/>
<circle cx="1128.1" cy="1174.4" r="7"/>
<circle cx="1128.9" cy="1139.8" r="7"/>
<circle cx="1130.4" cy="1150.2" r="7"/>
<circle cx="1131.6" cy="1160.1" r="7"/>
<circle cx="1132.4" cy="1165.2" r="7"/>
<circle cx="1135.5" cy="1176.5" r="7"/>
<circle cx="1135.9" cy="1179.6" r="7"/>
<circle cx="1137.1" cy="1162.7" r="7"/>
<circle cx="1138.3" cy="1164.7" r="7"/>
<circle cx="1140.2" cy="1157.0" r="7"/>
<circle cx="1141.0" cy="1129.5" r="7"/>
<circle cx="1141.4" cy="1140.9" r="7"/>
<circle cx="1142.2" cy="1156.7" r="7"/>
<circle cx="1143.0" cy="1197.1" r="7"/>
<circle cx="1143.8" cy="1163.5" r="7"/>
<circle cx="1144.2" cy="1172.2" r="7"/>
<circle cx="1144.6" cy="1155.2" r="7"/>
<circle cx="1146.1" cy="1133.5" r="7"/>
<circle cx="1147.7" cy="1143.8" r="7"/>
<circle cx="1148.5" cy="1181.1" r="7"/>
<circle cx="1151.6" cy="1120.0" r="7"/>
<circle cx="1152.0" cy="1147.1" r="7"/>
<circle cx="1154.4" cy="1142.6" r="7"/>
<circle cx="1155.9" cy="1132.5" r="7"/>
<circle cx="1157.9" cy="1156.5" r="7"/>
<circle cx="1159.5" cy="1128.1" r="7"/>
<circle cx="1159.9" cy="1157.9" r="7"/>
<circle cx="1161.8" cy="1165.1" r="7"/>
<circle cx="1162.6" cy="1133.7" r="7"/>
<circle cx="1163.8" cy="1129.0" r="7"/>
<circle cx="1164.2" cy="1141.8" r="7"/>
<circle cx="1166.1" cy="1179.9" r="7"/>
<circle cx="1166.5" cy="1150.1" r="7"/>
<circle cx="1166.9" cy="1127.6" r="7"/>
<circle cx="1167.3" cy="1109.6" r="7"/>
<circle cx="1168.1" cy="1132.8" r="7"/>
<circle cx="1168.9" cy="1121.7" r="7"/>
<circle cx="1170.1" cy="1121.1" r="7"/>
<circle cx="1171.2" cy="1106.6" r="7"/>
<circle cx="1172.0" cy="1087.4" r="7"/>
<circle cx="1175.2" cy="1139.8" r="7"/>
<circle cx="1175.6" cy="1138.3" r="7"/>
<circle cx="1177.5" cy="1123.0" r="7"/>
<circle cx="1178.7" cy="1136.5" r="7"/>
<circle cx="1179.5" cy="1101.3" r="7"/>
<circle cx="1180.3" cy="1120.6" r="7"/>
<circle cx="1181.1" cy="1090.2" r="7"/>
<circle cx="1182.2" cy="1129.0" r="7"/>
<circle cx="1183.8" cy="1132.2" r="7"/>
<circle cx="1185.4" cy="1099.5" r="7"/>
<circle cx="1186.6" cy="1087.0" r="7"/>
<circle cx="1187.3" cy="1128.0" r="7"/>
<circle cx="1187.7" cy="1123.6" r="7"/>
<circle cx="1189.3" cy="1102.4" r="7"/>
<circle cx="1191.3" cy="1126.9" r="7"/>
<circle cx="1191.7" cy="1144.0" r="7"/>
<circle cx="1192.4" cy="1109.6" r="7"/>
<circle cx="1192.8" cy="1107.3" r="7"/>
<circle cx="1194.0" cy="1115.3" r="7"/>
<circle cx="1195.6" cy="1108.4" r="7"/>
<circle cx="1196.4" cy="1155.6" r="7"/>
<circle cx="1197.5" cy="1108.5" r="7"/>
<circle cx="1198.7" cy="1146.5" r="7"/>
<circle cx="1199.1" cy="1079.4" r="7"/>
<circle cx="1199.5" cy="1113.1" r="7"/>
<circle cx="1200.3" cy="1103.9" r="7"/>
<circle cx="1200.7" cy="1081.0" r="7"/>
<circle cx="1201.1" cy="1099.9" r="7"/>
<circle cx="1201.5" cy="1113.1" r="7"/>
<circle cx="1202.3" cy="1110.4" r="7"/>
<circle cx="1205.4" cy="1099.5" r="7"/>
<circle cx="1206.6" cy="1098.6" r="7"/>
<circle cx="1208.1" cy="1101.5" r="7"/>
<circle cx="1208.9" cy="1135.8" r="7"/>
<circle cx="1210.1" cy="1093.7" r="7"/>
<circle cx="1210.5" cy="1106.5" r="7"/>
<circle cx="1211.7" cy="1065.4" r="7"/>
<circle cx="1212.1" cy="1091.5" r="7"/>
<circle cx="1212.5" cy="1081.1" r="7"/>
<circle cx="1213.6" cy="1105.0" r="7"/>
<circle cx="1214.0" cy="1095.2" r="7"/>
<circle cx="1214.4" cy="1074.5" r="7"/>
<circle cx="1216.0" cy="1086.0" r="7"/>
<circle cx="1216.8" cy="1103.1" r="7"/>
<circle cx="1218.0" cy="1089.2" r="7"/>
<circle cx="1219.1" cy="1073.3" r="7"/>
<circle cx="1219.5" cy="1098.3" r="7"/>
<circle cx="1219.9" cy="1059.9" r="7"/>
<circle cx="1221.5" cy="1067.9" r="7"/>
<circle cx="1221.9" cy="1102.9" r="7"/>
<circle cx="1222.7" cy="1106.8" r="7"/>
<circle cx="1224.2" cy="1071.5" r="7"/>
<circle cx="1224.6" cy="1052.9" r="7"/>
<circle cx="1226.2" cy="1084.5" r="7"/>
<circle cx="1227.4" cy="1114.2" r="7"/>
<circle cx="1227.8" cy="1078.6" r="7"/>
<circle cx="1228.2" cy="1045.5" r="7"/>
<circle cx="1229.3" cy="1086.1" r="7"/>
<circle cx="1229.7" cy="1088.8" r="7"/>
<circle cx="1234.0" cy="1045.0" r="7"/>
<circle cx="1234.4" cy="1075.3" r="7"/>
<circle cx="1234.8" cy="1042.9" r="7"/>
<circle cx="1235.2" cy="1065.5" r="7"/>
<circle cx="1235.6" cy="1093.3" r="7"/>
<circle cx="1236.8" cy="1077.0" r="7"/>
<circle cx="1238.4" cy="1096.3" r="7"/>
<circle cx="1239.1" cy="1056.5" r="7"/>
<circle cx="1239.5" cy="1092.5" r="7"/>
<circle cx="1241.1" cy="1058.3" r="7"/>
<circle cx="1241.9" cy="1044.8" r="7"/>
<circle cx="1242.3" cy="1047.0" r="7"/>
<circle cx="1243.1" cy="1018.1" r="7"/>
<circle cx="1244.6" cy="1049.4" r="7"/>
<circle cx="1245.4" cy="1081.1" r="7"/>
<circle cx="1245.8" cy="1064.8" r="7"/>
<circle cx="1246.6" cy="1057.7" r="7"/>
<circle cx="1247.8" cy="1055.4" r="7"/>
<circle cx="1248.6" cy="1055.3" r="7"/>
<circle cx="1249.4" cy="1060.4" r="7"/>
<circle cx="1249.7" cy="1075.5" r="7"/>
<circle cx="1250.1" cy="1060.1" r="7"/>
<circle cx="1252.1" cy="1041.6" r="7"/>
<circle cx="1252.9" cy="1054.4" r="7"/>
<circle cx="1253.3" cy="1011.5" r="7"/>
<circle cx="1254.1" cy="1059.5" r="7"/>
<circle cx="1256.4" cy="1038.6" r="7"/>
<circle cx="1258.0" cy="1034.6" r="7"/>
<circle cx="1258.8" cy="1036.7" r="7"/>
<circle cx="1259.2" cy="1030.8" r="7"/>
<circle cx="1260.3" cy="1032.7" r="7"/>
<circle cx="1260.7" cy="1045.5" r="7"/>
<circle cx="1261.1" cy="996.7" r="7"/>
<circle cx="1261.9" cy="1044.8" r="7"/>
<circle cx="1262.3" cy="1045.8" r="7"/>
<circle cx="1263.5" cy="1048.0" r="7"/>
<circle cx="1263.9" cy="1037.7" r="7"/>
<circle cx="1264.3" cy="1068.1" r="7"/>
<circle cx="1265.8" cy="1050.4" r="7"/>
<circle cx="1268.2" cy="1007.2" r="7"/>
<circle cx="1271.3" cy="1039.6" r="7"/>
<circle cx="1271.7" cy="1061.9" r="7"/>
<circle cx="1272.5" cy="1022.9" r="7"/>
<circle cx="1273.3" cy="1069.8" r="7"/>
<circle cx="1273.7" cy="1057.8" r="7"/>
<circle cx="1274.1" cy="1027.6" r="7"/>
<circle cx="1274.5" cy="1033.4" r="7"/>
<circle cx="1276.0" cy="1039.4" r="7"/>
<circle cx="1278.4" cy="1030.7" r="7"/>
<circle cx="1279.2" cy="1035.3" r="7"/>
<circle cx="1280.0" cy="1019.9" r="7"/>
<circle cx="1280.4" cy="1023.0" r="7"/>
<circle cx="1280.8" cy="1040.7" r="7"/>
<circle cx="1281.1" cy="993.7" r="7"/>
<circle cx="1282.3" cy="1040.3" r="7"/>
<circle cx="1282.7" cy="999.0" r="7"/>
<circle cx="1284.7" cy="1024.3" r="7"/>
<circle cx="1286.6" cy="1021.3" r="7"/>
<circle cx="1287.4" cy="1029.5" r="7"/>
<circle cx="1287.8" cy="997.8" r="7"/>
<circle cx="1288.2" cy="1016.4" r="7"/>
<circle cx="1288.6" cy="1000.8" r="7"/>
<circle cx="1289.4" cy="1036.5" r="7"/>
<circle cx="1289.8" cy="1031.2" r="7"/>
<circle cx="1290.2" cy="1050.6" r="7"/>
<circle cx="1291.0" cy="1037.2" r="7"/>
<circle cx="1291.4" cy="1010.6" r="7"/>
<circle cx="1292.1" cy="1006.9" r="7"/>
<circle cx="1292.5" cy="1029.6" r="7"/>
<circle cx="1292.9" cy="1030.9" r="7"/>
<circle cx="1293.3" cy="1028.0" r="7"/>
<circle cx="1295.7" cy="1031.0" r="7"/>
<circle cx="1296.5" cy="1024.7" r="7"/>
<circle cx="1296.8" cy="998.3" r="7"/>
<circle cx="1297.6" cy="1005.5" r="7"/>
<circle cx="1299.6" cy="1023.3" r="7"/>
<circle cx="1301.2" cy="981.2" r="7"/>
<circle cx="1301.6" cy="1023.8" r="7"/>
<circle cx="1301.9" cy="1021.3" r="7"/>
<circle cx="1302.7" cy="1005.2" r="7"/>
<circle cx="1303.9" cy="1027.0" r="7"/>
<circle cx="1304.3" cy="1014.7" r="7"/>
<circle cx="1304.7" cy="1005.8" r="7"/>
<circle cx="1305.1" cy="992.6" r="7"/>
<circle cx="1306.3" cy="1015.9" r="7"/>
<circle cx="1307.1" cy="1000.5" r="7"/>
<circle cx="1308.2" cy="983.0" r="7"/>
<circle cx="1309.8" cy="1033.8" r="7"/>
<circle cx="1310.6" cy="993.0" r="7"/>
<circle cx="1311.0" cy="1006.6" r="7"/>
<circle cx="1314.9" cy="1008.5" r="7"/>
<circle cx="1315.7" cy="985.3" r="7"/>
<circle cx="1317.3" cy="1017.7" r="7"/>
<circle cx="1318.0" cy="969.2" r="7"/>
<circle cx="1318.4" cy="976.0" r="7"/>
<circle cx="1319.2" cy="988.6" r="7"/>
<circle cx="1319.6" cy="1008.6" r="7"/>
<circle cx="1320.4" cy="983.7" r="7"/>
<circle cx="1322.0" cy="979.3" r="7"/>
<circle cx="1322.8" cy="980.3" r="7"/>
<circle cx="1323.1" cy="991.2" r="7"/>
<circle cx="1323.9" cy="989.0" r="7"/>
<circle cx="1324.3" cy="995.0" r="7"/>
<circle cx="1325.1" cy="970.8" r="7"/>
<circle cx="1326.7" cy="1000.2" r="7"/>
<circle cx="1327.1" cy="984.6" r="7"/>
<circle cx="1328.2" cy="975.1" r="7"/>
<circle cx="1329.0" cy="949.0" r="7"/>
<circle cx="1329.4" cy="992.8" r="7"/>
<circle cx="1329.8" cy="958.1" r="7"/>
<circle cx="1330.2" cy="985.0" r="7"/>
<circle cx="1331.0" cy="995.5" r="7"/>
<circle cx="1331.4" cy="953.1" r="7"/>
<circle cx="1333.0" cy="954.3" r="7"/>
<circle cx="1334.1" cy="1003.3" r="7"/>
<circle cx="1335.3" cy="953.8" r="7"/>
<circle cx="1335.7" cy="993.4" r="7"/>
<circle cx="1336.9" cy="968.9" r="7"/>
<circle cx="1337.3" cy="986.4" r="7"/>
<circle cx="1338.1" cy="997.3" r="7"/>
<circle cx="1339.2" cy="993.9" r="7"/>
<circle cx="1340.4" cy="953.6" r="7"/>
<circle cx="1341.2" cy="1007.9" r="7"/>
<circle cx="1341.6" cy="981.8" r="7"/>
<circle cx="1342.0" cy="950.4" r="7"/>
<circle cx="1343.2" cy="945.3" r="7"/>
<circle cx="1343.9" cy="981.1" r="7"/>
<circle cx="1344.7" cy="957.8" r="7"/>
<circle cx="1345.1" cy="950.0" r="7"/>
<circle cx="1345.9" cy="967.6" r="7"/>
<circle cx="1346.3" cy="955.3" r="7"/>
<circle cx="1347.1" cy="942.8" r="7"/>
<circle cx="1347.9" cy="968.1" r="7"/>
<circle cx="1348.3" cy="957.3" r="7"/>
<circle cx="1349.4" cy="962.7" r="7"/>
<circle cx="1350.2" cy="966.4" r="7"/>
<circle cx="1351.4" cy="951.9" r="7"/>
<circle cx="1351.8" cy="951.4" r="7"/>
<circle cx="1352.2" cy="969.0" r="7"/>
<circle cx="1353.4" cy="963.7" r="7"/>
<circle cx="1353.8" cy="956.1" r="7"/>
<circle cx="1354.2" cy="988.0" r="7"/>
<circle cx="1354.9" cy="947.9" r="7"/>
<circle cx="1356.1" cy="946.8" r="7"/>
<circle cx="1356.5" cy="972.9" r="7"/>
<circle cx="1357.3" cy="977.5" r="7"/>
<circle cx="1358.5" cy="923.3" r="7"/>
<circle cx="1359.6" cy="963.7" r="7"/>
<circle cx="1360.0" cy="933.5" r="7"/>
<circle cx="1360.4" cy="944.6" r="7"/>
<circle cx="1360.8" cy="923.7" r="7"/>
<circle cx="1361.2" cy="957.1" r="7"/>
<circle cx="1361.6" cy="950.5" r="7"/>
<circle cx="1363.2" cy="940.5" r="7"/>
<circle cx="1364.7" cy="912.5" r="7"/>
<circle cx="1365.1" cy="948.7" r="7"/>
<circle cx="1365.5" cy="930.7" r="7"/>
<circle cx="1365.9" cy="910.9" r="7"/>
<circle cx="1366.3" cy="934.5" r="7"/>
<circle cx="1366.7" cy="953.9" r="7"/>
<circle cx="1367.1" cy="938.5" r="7"/>
<circle cx="1367.9" cy="939.5" r="7"/>
<circle cx="1369.1" cy="935.3" r="7"/>
<circle cx="1369.5" cy="920.2" r="7"/>
<circle cx="1371.0" cy="897.2" r="7"/>
<circle cx="1371.4" cy="950.4" r="7"/>
<circle cx="1372.2" cy="950.2" r="7"/>
<circle cx="1372.6" cy="933.6" r="7"/>
<circle cx="1373.0" cy="915.4" r="7"/>
<circle cx="1373.8" cy="937.2" r="7"/>
<circle cx="1374.2" cy="961.5" r="7"/>
<circle cx="1374.6" cy="928.3" r="7"/>
<circle cx="1375.0" cy="931.3" r="7"/>
<circle cx="1375.3" cy="950.2" r="7"/>
<circle cx="1376.1" cy="924.0" r="7"/>
<circle cx="1376.9" cy="935.9" r="7"/>
<circle cx="1377.7" cy="960.1" r="7"/>
<circle cx="1378.1" cy="924.6" r="7"/>
<circle cx="1378.5" cy="938.7" r="7"/>
<circle cx="1378.9" cy="943.3" r="7"/>
<circle cx="1379.3" cy="909.4" r="7"/>
<circle cx="1379.7" cy="929.5" r="7"/>
<circle cx="1380.1" cy="906.4" r="7"/>
<circle cx="1381.2" cy="943.1" r="7"/>
<circle cx="1382.0" cy="957.7" r="7"/>
<circle cx="1382.4" cy="926.2" r="7"/>
<circle cx="1382.8" cy="917.7" r="7"/>
<circle cx="1383.2" cy="915.7" r="7"/>
<circle cx="1383.6" cy="927.4" r="7"/>
<circle cx="1384.0" cy="934.4" r="7"/>
<circle cx="1384.4" cy="936.6" r="7"/>
<circle cx="1384.8" cy="930.3" r="7"/>
<circle cx="1385.9" cy="905.7" r="7"/>
<circle cx="1386.3" cy="911.2" r="7"/>
<circle cx="1386.7" cy="901.3" r="7"/>
<circle cx="1387.5" cy="932.9" r="7"/>
<circle cx="1387.9" cy="957.8" r="7"/>
<circle cx="1388.3" cy="901.5" r="7"/>
<circle cx="1388.7" cy="891.2" r="7"/>
<circle cx="1389.5" cy="900.7" r="7"/>
<circle cx="1389.9" cy="921.0" r="7"/>
<circle cx="1391.4" cy="920.6" r="7"/>
<circle cx="1392.2" cy="902.4" r="7"/>
<circle cx="1392.6" cy="915.7" r="7"/>
<circle cx="1393.0" cy="914.0" r="7"/>
<circle cx="1393.4" cy="919.6" r="7"/>
<circle cx="1394.2" cy="948.7" r="7"/>
<circle cx="1395.0" cy="923.3" r="7"/>
<circle cx="1395.8" cy="922.3" r="7"/>
<circle cx="1396.1" cy="888.3" r="7"/>
<circle cx="1396.5" cy="915.1" r="7"/>
<circle cx="1396.9" cy="917.6" r="7"/>
<circle cx="1397.3" cy="915.8" r="7"/>
<circle cx="1397.7" cy="904.5" r="7"/>
<circle cx="1398.1" cy="902.0" r="7"/>
<circle cx="1398.5" cy="900.0" r="7"/>
<circle cx="1398.9" cy="895.9" r="7"/>
<circle cx="1399.7" cy="918.8" r="7"/>
<circle cx="1400.1" cy="927.0" r="7"/>
<circle cx="1400.5" cy="920.2" r="7"/>
<circle cx="1400.9" cy="893.1" r="7"/>
<circle cx="1401.3" cy="889.3" r="7"/>
<circle cx="1401.6" cy="875.9" r="7"/>
<circle cx="1402.0" cy="912.6" r="7"/>
<circle cx="1402.4" cy="905.9" r="7"/>
<circle cx="1403.2" cy="888.6" r="7"/>
<circle cx="1403.6" cy="896.5" r="7"/>
<circle cx="1404.0" cy="912.0" r="7"/>
<circle cx="1404.4" cy="910.4" r="7"/>
<circle cx="1404.8" cy="887.6" r="7"/>
<circle cx="1405.6" cy="929.4" r="7"/>
<circle cx="1406.0" cy="931.7" r="7"/>
<circle cx="1406.7" cy="928.9" r="7"/>
<circle cx="1407.5" cy="900.9" r="7"/>
<circle cx="1408.3" cy="898.2" r="7"/>
<circle cx="1408.7" cy="882.5" r="7"/>
<circle cx="1409.5" cy="883.7" r="7"/>
<circle cx="1409.9" cy="912.6" r="7"/>
<circle cx="1410.3" cy="903.2" r="7"/>
<circle cx="1410.7" cy="931.7" r="7"/>
<circle cx="1411.1" cy="892.1" r="7"/>
<circle cx="1411.5" cy="876.6" r="7"/>
<circle cx="1411.8" cy="873.5" r="7"/>
<circle cx="1412.2" cy="924.5" r="7"/>
<circle cx="1413.0" cy="876.1" r="7"/>
<circle cx="1413.4" cy="886.8" r="7"/>
<circle cx="1413.8" cy="908.8" r="7"/>
<circle cx="1414.2" cy="893.3" r="7"/>
<circle cx="1414.6" cy="909.6" r="7"/>
<circle cx="1415.0" cy="902.0" r="7"/>
<circle cx="1416.2" cy="880.7" r="7"/>
<circle cx="1416.6" cy="899.9" r="7"/>
<circle cx="1417.7" cy="880.1" r="7"/>
<circle cx="1418.5" cy="895.3" r="7"/>
<circle cx="1418.9" cy="841.7" r="7"/>
<circle cx="1419.7" cy="862.5" r="7"/>
<circle cx="1421.7" cy="873.0" r="7"/>
<circle cx="1422.1" cy="885.7" r="7"/>
<circle cx="1422.4" cy="903.4" r="7"/>
<circle cx="1422.8" cy="885.6" r="7"/>
<circle cx="1423.2" cy="867.0" r="7"/>
<circle cx="1423.6" cy="885.4" r="7"/>
<circle cx="1424.0" cy="904.1" r="7"/>
<circle cx="1424.8" cy="882.4" r="7"/>
<circle cx="1425.2" cy="900.5" r="7"/>
<circle cx="1426.0" cy="876.5" r="7"/>
<circle cx="1426.4" cy="889.9" r="7"/>
<circle cx="1426.8" cy="860.9" r="7"/>
<circle cx="1427.5" cy="886.2" r="7"/>
<circle cx="1427.9" cy="895.8" r="7"/>
<circle cx="1428.7" cy="866.0" r="7"/>
<circle cx="1429.1" cy="892.4" r="7"/>
<circle cx="1429.5" cy="872.4" r="7"/>
<circle cx="1429.9" cy="893.2" r="7"/>
<circle cx="1430.7" cy="886.5" r="7"/>
<circle cx="1431.1" cy="891.8" r="7"/>
<circle cx="1431.5" cy="896.4" r="7"/>
<circle cx="1431.9" cy="904.0" r="7"/>
<circle cx="1432.3" cy="879.6" r="7"/>
<circle cx="1432.7" cy="887.8" r="7"/>
<circle cx="1433.0" cy="889.6" r="7"/>
<circle cx="1433.8" cy="858.3" r="7"/>
<circle cx="1434.2" cy="876.1" r="7"/>
<circle cx="1434.6" cy="857.9" r="7"/>
<circle cx="1435.0" cy="868.7" r="7"/>
<circle cx="1435.4" cy="887.6" r="7"/>
<circle cx="1435.8" cy="857.7" r="7"/>
<circle cx="1436.2" cy="865.5" r="7"/>
<circle cx="1436.6" cy="847.0" r="7"/>
<circle cx="1437.0" cy="835.8" r="7"/>
<circle cx="1437.4" cy="858.0" r="7"/>
<circle cx="1438.1" cy="845.8" r="7"/>
<circle cx="1438.5" cy="872.4" r="7"/>
<circle cx="1439.3" cy="848.2" r="7"/>
<circle cx="1439.7" cy="881.9" r="7"/>
<circle cx="1440.5" cy="856.9" r="7"/>
<circle cx="1440.9" cy="830.2" r="7"/>
<circle cx="1441.3" cy="868.4" r="7"/>
<circle cx="1441.7" cy="884.2" r="7"/>
<circle cx="1442.1" cy="872.3" r="7"/>
<circle cx="1442.5" cy="859.3" r="7"/>
<circle cx="1443.2" cy="872.1" r="7"/>
<circle cx="1443.6" cy="847.4" r="7"/>
<circle cx="1444.0" cy="857.3" r="7"/>
<circle cx="1444.4" cy="842.4" r="7"/>
<circle cx="1444.8" cy="839.8" r="7"/>
<circle cx="1446.4" cy="857.0" r="7"/>
<circle cx="1447.2" cy="845.3" r="7"/>
<circle cx="1447.6" cy="873.6" r="7"/>
<circle cx="1448.4" cy="868.0" r="7"/>
<circle cx="1448.7" cy="874.9" r="7"/>
<circle cx="1449.5" cy="855.6" r="7"/>
<circle cx="1449.9" cy="840.8" r="7"/>
<circle cx="1450.3" cy="833.0" r="7"/>
<circle cx="1450.7" cy="877.6" r="7"/>
<circle cx="1451.5" cy="845.2" r="7"/>
<circle cx="1451.9" cy="855.8" r="7"/>
<circle cx="1452.7" cy="845.6" r="7"/>
<circle cx="1453.1" cy="850.8" r="7"/>
<circle cx="1453.5" cy="866.8" r="7"/>
<circle cx="1454.6" cy="870.8" r="7"/>
<circle cx="1455.8" cy="828.2" r="7"/>
<circle cx="1456.2" cy="863.9" r="7"/>
<circle cx="1457.4" cy="848.8" r="7"/>
<circle cx="1458.2" cy="853.1" r="7"/>
<circle cx="1458.6" cy="855.0" r="7"/>
<circle cx="1459.7" cy="862.4" r="7"/>
<circle cx="1460.1" cy="851.8" r="7"/>
<circle cx="1460.5" cy="832.7" r="7"/>
<circle cx="1460.9" cy="837.8" r="7"/>
<circle cx="1461.7" cy="832.6" r="7"/>
<circle cx="1462.1" cy="831.3" r="7"/>
<circle cx="1462.5" cy="808.9" r="7"/>
<circle cx="1462.9" cy="851.7" r="7"/>
<circle cx="1463.7" cy="855.8" r="7"/>
<circle cx="1464.1" cy="856.1" r="7"/>
<circle cx="1465.2" cy="825.9" r="7"/>
<circle cx="1465.6" cy="837.0" r="7"/>
<circle cx="1466.0" cy="861.5" r="7"/>
<circle cx="1466.4" cy="823.1" r="7"/>
<circle cx="1466.8" cy="835.2" r="7"/>
<circle cx="1467.2" cy="842.5" r="7"/>
<circle cx="1467.6" cy="891.5" r="7"/>
<circle cx="1468.0" cy="826.7" r="7"/>
<circle cx="1468.4" cy="818.3" r="7"/>
<circle cx="1468.8" cy="852.4" r="7"/>
<circle cx="1469.2" cy="849.8" r="7"/>
<circle cx="1469.5" cy="828.6" r="7"/>
<circle cx="1469.9" cy="873.4" r="7"/>
<circle cx="1470.3" cy="813.6" r="7"/>
<circle cx="1471.5" cy="870.9" r="7"/>
<circle cx="1472.3" cy="804.2" r="7"/>
<circle cx="1472.7" cy="818.3" r="7"/>
<circle cx="1473.1" cy="847.2" r="7"/>
<circle cx="1473.5" cy="845.5" r="7"/>
<circle cx="1475.4" cy="832.9" r="7"/>
<circle cx="1475.8" cy="836.2" r="7"/>
<circle cx="1476.6" cy="814.6" r="7"/>
<circle cx="1477.0" cy="826.4" r="7"/>
<circle cx="1477.4" cy="832.3" r="7"/>
<circle cx="1479.0" cy="802.7" r="7"/>
<circle cx="1479.4" cy="821.0" r="7"/>
<circle cx="1479.8" cy="858.7" r="7"/>
<circle cx="1480.5" cy="808.6" r="7"/>
<circle cx="1480.9" cy="817.5" r="7"/>
<circle cx="1481.3" cy="808.7" r="7"/>
<circle cx="1483.7" cy="830.9" r="7"/>
<circle cx="1484.1" cy="834.3" r="7"/>
<circle cx="1484.5" cy="830.2" r="7"/>
<circle cx="1484.9" cy="807.4" r="7"/>
<circle cx="1485.6" cy="796.9" r="7"/>
<circle cx="1486.0" cy="808.6" r="7"/>
<circle cx="1486.4" cy="831.5" r="7"/>
<circle cx="1486.8" cy="829.1" r="7"/>
<circle cx="1487.2" cy="786.0" r="7"/>
<circle cx="1487.6" cy="797.0" r="7"/>
<circle cx="1488.0" cy="807.7" r="7"/>
<circle cx="1488.4" cy="818.6" r="7"/>
<circle cx="1488.8" cy="823.8" r="7"/>
<circle cx="1489.2" cy="823.4" r="7"/>
<circle cx="1489.6" cy="810.1" r="7"/>
<circle cx="1490.3" cy="848.7" r="7"/>
<circle cx="1490.7" cy="819.6" r="7"/>
<circle cx="1491.1" cy="833.7" r="7"/>
<circle cx="1491.5" cy="823.0" r="7"/>
<circle cx="1492.3" cy="822.6" r="7"/>
<circle cx="1492.7" cy="813.6" r="7"/>
<circle cx="1493.1" cy="800.3" r="7"/>
<circle cx="1493.9" cy="831.4" r="7"/>
<circle cx="1494.7" cy="832.6" r="7"/>
<circle cx="1495.1" cy="830.6" r="7"/>
<circle cx="1496.6" cy="790.3" r="7"/>
<circle cx="1497.8" cy="816.1" r="7"/>
<circle cx="1498.2" cy="819.1" r="7"/>
<circle cx="1499.4" cy="790.4" r="7"/>
<circle cx="1500.2" cy="806.1" r="7"/>
<circle cx="1500.6" cy="819.5" r="7"/>
<circle cx="1500.9" cy="780.4" r="7"/>
<circle cx="1501.3" cy="777.6" r="7"/>
<circle cx="1501.7" cy="838.4" r="7"/>
<circle cx="1502.5" cy="797.4" r="7"/>
<circle cx="1502.9" cy="829.7" r="7"/>
<circle cx="1503.3" cy="774.3" r="7"/>
<circle cx="1504.1" cy="803.1" r="7"/>
<circle cx="1504.9" cy="822.2" r="7"/>
<circle cx="1505.3" cy="792.2" r="7"/>
<circle cx="1506.0" cy="799.7" r="7"/>
<circle cx="1506.4" cy="797.5" r="7"/>
<circle cx="1506.8" cy="800.4" r="7"/>
<circle cx="1507.2" cy="798.4" r="7"/>
<circle cx="1507.6" cy="801.7" r="7"/>
<circle cx="1508.0" cy="813.9" r="7"/>
<circle cx="1508.4" cy="800.5" r="7"/>
<circle cx="1508.8" cy="808.3" r="7"/>
<circle cx="1509.6" cy="811.2" r="7"/>
<circle cx="1510.8" cy="811.4" r="7"/>
<circle cx="1511.2" cy="834.0" r="7"/>
<circle cx="1512.3" cy="827.0" r="7"/>
<circle cx="1512.7" cy="809.2" r="7"/>
<circle cx="1513.1" cy="792.2" r="7"/>
<circle cx="1513.5" cy="745.8" r="7"/>
<circle cx="1513.9" cy="784.8" r="7"/>
<circle cx="1514.3" cy="786.6" r="7"/>
<circle cx="1514.7" cy="809.1" r="7"/>
<circle cx="1515.1" cy="800.5" r="7"/>
<circle cx="1515.5" cy="787.2" r="7"/>
<circle cx="1515.9" cy="816.4" r="7"/>
<circle cx="1516.6" cy="804.1" r="7"/>
<circle cx="1517.0" cy="770.0" r="7"/>
<circle cx="1517.8" cy="810.6" r="7"/>
<circle cx="1518.6" cy="786.6" r="7"/>
<circle cx="1519.0" cy="786.1" r="7"/>
<circle cx="1519.4" cy="760.9" r="7"/>
<circle cx="1519.8" cy="782.0" r="7"/>
<circle cx="1520.2" cy="809.1" r="7"/>
<circle cx="1520.6" cy="836.0" r="7"/>
<circle cx="1521.0" cy="772.0" r="7"/>
<circle cx="1521.7" cy="778.3" r="7"/>
<circle cx="1522.1" cy="805.7" r="7"/>
<circle cx="1522.9" cy="758.9" r="7"/>
<circle cx="1523.7" cy="800.6" r="7"/>
<circle cx="1524.1" cy="782.2" r="7"/>
<circle cx="1524.5" cy="766.0" r="7"/>
<circle cx="1524.9" cy="763.6" r="7"/>
<circle cx="1525.3" cy="794.7" r="7"/>
<circle cx="1526.1" cy="802.7" r="7"/>
<circle cx="1526.5" cy="776.8" r="7"/>
<circle cx="1526.9" cy="790.4" r="7"/>
<circle cx="1527.6" cy="787.5" r="7"/>
<circle cx="1528.0" cy="802.2" r="7"/>
<circle cx="1528.4" cy="795.1" r="7"/>
<circle cx="1530.0" cy="829.8" r="7"/>
<circle cx="1530.4" cy="756.7" r="7"/>
<circle cx="1531.2" cy="776.9" r="7"/>
<circle cx="1532.3" cy="777.8" r="7"/>
<circle cx="1533.1" cy="774.4" r="7"/>
<circle cx="1533.5" cy="776.1" r="7"/>
<circle cx="1533.9" cy="782.0" r="7"/>
<circle cx="1534.3" cy="747.8" r="7"/>
<circle cx="1535.1" cy="768.4" r="7"/>
<circle cx="1535.5" cy="776.3" r="7"/>
<circle cx="1536.3" cy="792.7" r="7"/>
<circle cx="1536.7" cy="777.8" r="7"/>
<circle cx="1537.4" cy="786.8" r="7"/>
<circle cx="1538.2" cy="778.7" r="7"/>
<circle cx="1539.8" cy="755.2" r="7"/>
<circle cx="1540.2" cy="756.8" r="7"/>
<circle cx="1541.4" cy="768.5" r="7"/>
<circle cx="1541.8" cy="736.9" r="7"/>
<circle cx="1542.6" cy="801.5" r="7"/>
<circle cx="1542.9" cy="747.9" r="7"/>
<circle cx="1543.7" cy="788.6" r="7"/>
<circle cx="1544.1" cy="783.7" r="7"/>
<circle cx="1544.5" cy="776.7" r="7"/>
<circle cx="1545.7" cy="809.3" r="7"/>
<circle cx="1546.1" cy="762.1" r="7"/>
<circle cx="1546.9" cy="768.3" r="7"/>
<circle cx="1547.7" cy="737.4" r="7"/>
<circle cx="1548.0" cy="726.4" r="7"/>
<circle cx="1549.6" cy="727.2" r="7"/>
<circle cx="1550.4" cy="759.6" r="7"/>
<circle cx="1550.8" cy="756.5" r="7"/>
<circle cx="1551.6" cy="764.6" r="7"/>
<circle cx="1552.0" cy="742.9" r="7"/>
<circle cx="1552.4" cy="766.9" r="7"/>
<circle cx="1553.1" cy="745.3" r="7"/>
<circle cx="1553.5" cy="764.5" r="7"/>
<circle cx="1553.9" cy="763.5" r="7"/>
<circle cx="1554.7" cy="741.9" r="7"/>
<circle cx="1555.1" cy="748.7" r="7"/>
<circle cx="1555.5" cy="760.3" r="7"/>
<circle cx="1555.9" cy="778.8" r="7"/>
<circle cx="1556.3" cy="762.0" r="7"/>
<circle cx="1557.9" cy="734.3" r="7"/>
<circle cx="1558.6" cy="738.5" r="7"/>
<circle cx="1559.0" cy="750.7" r="7"/>
<circle cx="1560.2" cy="761.2" r="7"/>
<circle cx="1560.6" cy="740.4" r="7"/>
<circle cx="1562.2" cy="763.1" r="7"/>
<circle cx="1563.0" cy="701.5" r="7"/>
<circle cx="1563.4" cy="782.8" r="7"/>
<circle cx="1563.7" cy="779.0" r="7"/>
<circle cx="1564.1" cy="768.0" r="7"/>
<circle cx="1564.5" cy="763.4" r="7"/>
<circle cx="1564.9" cy="763.1" r="7"/>
<circle cx="1565.3" cy="761.4" r="7"/>
<circle cx="1565.7" cy="753.6" r="7"/>
<circle cx="1566.5" cy="765.6" r="7"/>
<circle cx="1566.9" cy="732.9" r="7"/>
<circle cx="1567.7" cy="745.6" r="7"/>
<circle cx="1568.5" cy="711.0" r="7"/>
<circle cx="1568.8" cy="768.0" r="7"/>
<circle cx="1570.0" cy="716.1" r="7"/>
<circle cx="1570.8" cy="727.5" r="7"/>
<circle cx="1571.2" cy="712.5" r="7"/>
<circle cx="1571.6" cy="736.1" r="7"/>
<circle cx="1572.0" cy="738.5" r="7"/>
<circle cx="1572.4" cy="733.1" r="7"/>
<circle cx="1573.2" cy="752.9" r="7"/>
<circle cx="1573.6" cy="718.6" r="7"/>
<circle cx="1574.0" cy="733.7" r="7"/>
<circle cx="1574.3" cy="738.4" r="7"/>
<circle cx="1574.7" cy="749.9" r="7"/>
<circle cx="1575.1" cy="699.8" r="7"/>
<circle cx="1575.5" cy="762.2" r="7"/>
<circle cx="1575.9" cy="718.9" r="7"/>
<circle cx="1576.7" cy="727.9" r="7"/>
<circle cx="1577.1" cy="748.1" r="7"/>
<circle cx="1577.5" cy="759.8" r="7"/>
<circle cx="1577.9" cy="716.1" r="7"/>
<circle cx="1578.7" cy="736.7" r="7"/>
<circle cx="1579.1" cy="745.4" r="7"/>
<circle cx="1579.4" cy="748.8" r="7"/>
<circle cx="1579.8" cy="729.4" r="7"/>
<circle cx="1580.6" cy="740.9" r="7"/>
<circle cx="1581.0" cy="745.4" r="7"/>
<circle cx="1581.4" cy="741.4" r="7"/>
<circle cx="1581.8" cy="730.9" r="7"/>
<circle cx="1583.0" cy="720.1" r="7"/>
<circle cx="1583.4" cy="758.4" r="7"/>
<circle cx="1583.8" cy="719.1" r="7"/>
<circle cx="1584.5" cy="709.3" r="7"/>
<circle cx="1585.3" cy="751.4" r="7"/>
<circle cx="1585.7" cy="714.9" r="7"/>
<circle cx="1586.1" cy="757.2" r="7"/>
<circle cx="1587.3" cy="703.6" r="7"/>
<circle cx="1587.7" cy="723.6" r="7"/>
<circle cx="1588.1" cy="709.0" r="7"/>
<circle cx="1589.3" cy="718.1" r="7"/>
<circle cx="1589.7" cy="745.4" r="7"/>
<circle cx="1590.4" cy="714.1" r="7"/>
<circle cx="1590.8" cy="704.7" r="7"/>
<circle cx="1591.2" cy="728.0" r="7"/>
<circle cx="1592.0" cy="729.8" r="7"/>
<circle cx="1592.4" cy="696.9" r="7"/>
<circle cx="1592.8" cy="724.1" r="7"/>
<circle cx="1593.2" cy="731.9" r="7"/>
<circle cx="1594.8" cy="723.6" r="7"/>
<circle cx="1595.5" cy="704.1" r="7"/>
<circle cx="1595.9" cy="719.9" r="7"/>
<circle cx="1596.7" cy="724.8" r="7"/>
<circle cx="1597.5" cy="737.6" r="7"/>
<circle cx="1597.9" cy="678.2" r="7"/>
<circle cx="1598.3" cy="718.4" r="7"/>
<circle cx="1598.7" cy="693.4" r="7"/>
<circle cx="1599.5" cy="723.0" r="7"/>
<circle cx="1600.6" cy="699.8" r="7"/>
<circle cx="1601.0" cy="722.7" r="7"/>
<circle cx="1601.4" cy="717.1" r="7"/>
<circle cx="1602.2" cy="716.9" r="7"/>
<circle cx="1603.0" cy="757.0" r="7"/>
<circle cx="1603.4" cy="703.4" r="7"/>
<circle cx="1604.2" cy="708.7" r="7"/>
<circle cx="1604.6" cy="725.5" r="7"/>
<circle cx="1605.4" cy="713.5" r="7"/>
<circle cx="1607.3" cy="678.0" r="7"/>
<circle cx="1607.7" cy="706.4" r="7"/>
<circle cx="1608.1" cy="721.4" r="7"/>
<circle cx="1608.9" cy="690.4" r="7"/>
<circle cx="1610.1" cy="702.7" r="7"/>
<circle cx="1611.2" cy="708.7" r="7"/>
<circle cx="1611.6" cy="681.4" r="7"/>
<circle cx="1612.0" cy="710.3" r="7"/>
<circle cx="1612.8" cy="687.8" r="7"/>
<circle cx="1613.2" cy="707.9" r="7"/>
<circle cx="1614.0" cy="692.0" r="7"/>
<circle cx="1614.4" cy="704.2" r="7"/>
<circle cx="1615.2" cy="676.2" r="7"/>
<circle cx="1615.6" cy="656.5" r="7"/>
<circle cx="1615.9" cy="726.3" r="7"/>
<circle cx="1616.3" cy="687.8" r="7"/>
<circle cx="1617.1" cy="693.1" r="7"/>
<circle cx="1617.5" cy="691.0" r="7"/>
<circle cx="1618.7" cy="674.2" r="7"/>
<circle cx="1619.1" cy="681.8" r="7"/>
<circle cx="1620.7" cy="697.6" r="7"/>
<circle cx="1622.2" cy="699.3" r="7"/>
<circle cx="1622.6" cy="684.6" r="7"/>
<circle cx="1623.4" cy="692.4" r="7"/>
<circle cx="1624.2" cy="705.0" r="7"/>
<circle cx="1625.0" cy="660.8" r="7"/>
<circle cx="1625.8" cy="704.4" r="7"/>
<circle cx="1626.5" cy="703.5" r="7"/>
<circle cx="1627.3" cy="690.6" r="7"/>
<circle cx="1627.7" cy="675.9" r="7"/>
<circle cx="1628.9" cy="673.6" r="7"/>
<circle cx="1629.3" cy="665.3" r="7"/>
<circle cx="1633.2" cy="703.2" r="7"/>
<circle cx="1634.0" cy="693.9" r="7"/>
<circle cx="1634.4" cy="682.6" r="7"/>
<circle cx="1635.2" cy="714.3" r="7"/>
<circle cx="1637.5" cy="702.5" r="7"/>
<circle cx="1638.3" cy="678.3" r="7"/>
<circle cx="1639.1" cy="678.4" r="7"/>
<circle cx="1639.5" cy="683.1" r="7"/>
<circle cx="1639.9" cy="667.7" r="7"/>
<circle cx="1641.9" cy="701.5" r="7"/>
<circle cx="1643.4" cy="653.7" r="7"/>
<circle cx="1644.2" cy="686.8" r="7"/>
<circle cx="1645.0" cy="666.0" r="7"/>
<circle cx="1645.4" cy="683.7" r="7"/>
<circle cx="1646.6" cy="647.8" r="7"/>
<circle cx="1647.7" cy="655.8" r="7"/>
<circle cx="1649.7" cy="666.5" r="7"/>
<circle cx="1650.5" cy="614.6" r="7"/>
<circle cx="1650.9" cy="622.0" r="7"/>
<circle cx="1652.1" cy="659.2" r="7"/>
<circle cx="1653.2" cy="667.8" r="7"/>
<circle cx="1654.0" cy="617.5" r="7"/>
<circle cx="1655.2" cy="649.3" r="7"/>
<circle cx="1656.8" cy="671.7" r="7"/>
<circle cx="1657.6" cy="668.0" r="7"/>
<circle cx="1658.3" cy="675.4" r="7"/>
<circle cx="1658.7" cy="656.6" r="7"/>
<circle cx="1659.9" cy="652.5" r="7"/>
<circle cx="1663.4" cy="639.1" r="7"/>
<circle cx="1664.6" cy="659.7" r="7"/>
<circle cx="1665.0" cy="627.3" r="7"/>
<circle cx="1665.8" cy="661.1" r="7"/>
<circle cx="1668.5" cy="649.8" r="7"/>
<circle cx="1669.3" cy="621.7" r="7"/>
<circle cx="1670.5" cy="623.9" r="7"/>
<circle cx="1671.3" cy="651.7" r="7"/>
<circle cx="1671.7" cy="634.8" r="7"/>
<circle cx="1673.3" cy="597.0" r="7"/>
<circle cx="1673.6" cy="620.1" r="7"/>
<circle cx="1674.0" cy="619.1" r="7"/>
<circle cx="1675.2" cy="597.6" r="7"/>
<circle cx="1677.2" cy="609.1" r="7"/>
<circle cx="1679.1" cy="601.2" r="7"/>
<circle cx="1679.9" cy="642.4" r="7"/>
<circle cx="1680.7" cy="652.4" r="7"/>
<circle cx="1681.1" cy="636.1" r="7"/>
<circle cx="1681.5" cy="620.4" r="7"/>
<circle cx="1683.5" cy="603.4" r="7"/>
<circle cx="1686.6" cy="604.2" r="7"/>
<circle cx="1687.4" cy="641.0" r="7"/>
<circle cx="1689.0" cy="617.1" r="7"/>
<circle cx="1692.1" cy="646.8" r="7"/>
<circle cx="1692.9" cy="646.4" r="7"/>
<circle cx="1696.0" cy="643.6" r="7"/>
<circle cx="1696.8" cy="604.7" r="7"/>
<circle cx="1697.6" cy="601.4" r="7"/>
<circle cx="1698.0" cy="658.9" r="7"/>
<circle cx="1699.6" cy="626.3" r="7"/>
<circle cx="1699.9" cy="619.3" r="7"/>
<circle cx="1700.3" cy="604.2" r="7"/>
<circle cx="1701.5" cy="618.3" r="7"/>
<circle cx="1701.9" cy="622.3" r="7"/>
<circle cx="1703.1" cy="621.1" r="7"/>
<circle cx="1704.7" cy="611.6" r="7"/>
<circle cx="1705.8" cy="627.8" r="7"/>
<circle cx="1707.8" cy="649.4" r="7"/>
<circle cx="1709.8" cy="600.8" r="7"/>
<circle cx="1712.1" cy="591.2" r="7"/>
<circle cx="1712.5" cy="621.7" r="7"/>
<circle cx="1713.3" cy="610.4" r="7"/>
<circle cx="1713.7" cy="608.9" r="7"/>
<circle cx="1716.4" cy="592.7" r="7"/>
<circle cx="1718.0" cy="585.2" r="7"/>
<circle cx="1719.6" cy="576.9" r="7"/>
<circle cx="1721.1" cy="584.2" r="7"/>
<circle cx="1724.3" cy="572.6" r="7"/>
<circle cx="1725.1" cy="583.1" r="7"/>
<circle cx="1729.0" cy="582.0" r="7"/>
<circle cx="1730.2" cy="610.4" r="7"/>
<circle cx="1731.0" cy="595.8" r="7"/>
<circle cx="1731.3" cy="557.4" r="7"/>
<circle cx="1732.9" cy="538.8" r="7"/>
<circle cx="1733.7" cy="583.6" r="7"/>
<circle cx="1734.1" cy="571.3" r="7"/>
<circle cx="1735.7" cy="582.5" r="7"/>
<circle cx="1737.6" cy="597.4" r="7"/>
<circle cx="1738.4" cy="587.2" r="7"/>
<circle cx="1738.8" cy="518.8" r="7"/>
<circle cx="1739.2" cy="552.4" r="7"/>
<circle cx="1740.8" cy="543.1" r="7"/>
<circle cx="1741.6" cy="566.4" r="7"/>
<circle cx="1742.3" cy="607.5" r="7"/>
<circle cx="1743.9" cy="564.6" r="7"/>
<circle cx="1744.3" cy="572.7" r="7"/>
<circle cx="1744.7" cy="577.8" r="7"/>
<circle cx="1745.5" cy="604.6" r="7"/>
<circle cx="1746.3" cy="584.9" r="7"/>
<circle cx="1748.6" cy="555.7" r="7"/>
<circle cx="1749.8" cy="566.4" r="7"/>
<circle cx="1751.4" cy="571.0" r="7"/>
<circle cx="1752.1" cy="563.4" r="7"/>
<circle cx="1752.9" cy="595.1" r="7"/>
<circle cx="1753.7" cy="546.8" r="7"/>
<circle cx="1754.5" cy="589.5" r="7"/>
<circle cx="1755.3" cy="552.7" r="7"/>
<circle cx="1760.8" cy="584.2" r="7"/>
<circle cx="1762.0" cy="557.3" r="7"/>
<circle cx="1764.3" cy="529.5" r="7"/>
<circle cx="1768.2" cy="505.6" r="7"/>
<circle cx="1771.4" cy="555.2" r="7"/>
<circle cx="1773.3" cy="544.1" r="7"/>
<circle cx="1776.1" cy="521.3" r="7"/>
<circle cx="1776.9" cy="506.0" r="7"/>
<circle cx="1777.7" cy="523.9" r="7"/>
<circle cx="1780.0" cy="544.1" r="7"/>
<circle cx="1783.5" cy="527.4" r="7"/>
<circle cx="1784.3" cy="513.9" r="7"/>
<circle cx="1786.3" cy="516.7" r="7"/>
<circle cx="1788.3" cy="531.1" r="7"/>
<circle cx="1789.0" cy="535.0" r="7"/>
<circle cx="1791.0" cy="483.9" r="7"/>
<circle cx="1791.4" cy="541.7" r="7"/>
<circle cx="1792.2" cy="513.6" r="7"/>
<circle cx="1794.5" cy="514.4" r="7"/>
<circle cx="1794.9" cy="521.5" r="7"/>
<circle cx="1795.7" cy="530.4" r="7"/>
<circle cx="1796.9" cy="482.4" r="7"/>
<circle cx="1801.6" cy="541.0" r="7"/>
<circle cx="1802.4" cy="506.5" r="7"/>
<circle cx="1803.6" cy="494.5" r="7"/>
<circle cx="1804.0" cy="488.6" r="7"/>
<circle cx="1804.4" cy="500.8" r="7"/>
<circle cx="1805.9" cy="476.3" r="7"/>
<circle cx="1807.9" cy="512.4" r="7"/>
<circle cx="1808.7" cy="513.4" r="7"/>
<circle cx="1809.1" cy="461.4" r="7"/>
<circle cx="1810.2" cy="497.4" r="7"/>
<circle cx="1811.8" cy="502.7" r="7"/>
<circle cx="1812.6" cy="518.1" r="7"/>
<circle cx="1813.0" cy="493.8" r="7"/>
<circle cx="1815.3" cy="539.3" r="7"/>
<circle cx="1818.9" cy="488.7" r="7"/>
<circle cx="1819.7" cy="464.0" r="7"/>
<circle cx="1821.6" cy="495.1" r="7"/>
<circle cx="1828.7" cy="475.9" r="7"/>
<circle cx="1829.5" cy="492.0" r="7"/>
<circle cx="1831.0" cy="472.1" r="7"/>
<circle cx="1831.8" cy="463.6" r="7"/>
<circle cx="1833.0" cy="468.3" r="7"/>
<circle cx="1837.3" cy="479.6" r="7"/>
<circle cx="1837.7" cy="460.0" r="7"/>
<circle cx="1841.2" cy="444.1" r="7"/>
<circle cx="1843.6" cy="483.4" r="7"/>
<circle cx="1846.7" cy="491.8" r="7"/>
<circle cx="1848.3" cy="460.0" r="7"/>
<circle cx="1855.4" cy="444.5" r="7"/>
<circle cx="1856.2" cy="442.2" r="7"/>
<circle cx="1856.9" cy="477.6" r="7"/>
<circle cx="1859.7" cy="462.8" r="7"/>
<circle cx="1867.2" cy="452.0" r="7"/>
<circle cx="1867.9" cy="444.4" r="7"/>
<circle cx="1868.7" cy="429.5" r="7"/>
<circle cx="1869.9" cy="414.3" r="7"/>
<circle cx="1873.4" cy="433.7" r="7"/>
<circle cx="1873.8" cy="459.0" r="7"/>
<circle cx="1877.4" cy="411.9" r="7"/>
<circle cx="1879.7" cy="439.2" r="7"/>
<circle cx="1881.7" cy="451.6" r="7"/>
<circle cx="1883.2" cy="439.8" r="7"/>
<circle cx="1885.2" cy="440.5" r="7"/>
<circle cx="1893.1" cy="424.8" r="7"/>
<circle cx="1893.4" cy="420.3" r="7"/>
<circle cx="1895.4" cy="418.3" r="7"/>
<circle cx="1897.4" cy="407.6" r="7"/>
<circle cx="1902.9" cy="402.7" r="7"/>
<circle cx="1903.7" cy="414.0" r="7"/>
<circle cx="1905.6" cy="439.1" r="7"/>
<circle cx="1906.4" cy="401.3" r="7"/>
<circle cx="1907.2" cy="374.8" r="7"/>
<circle cx="1908.0" cy="400.1" r="7"/>
<circle cx="1911.1" cy="352.2" r="7"/>
<circle cx="1911.5" cy="370.9" r="7"/>
<circle cx="1916.6" cy="411.8" r="7"/>
<circle cx="1922.9" cy="415.3" r="7"/>
<circle cx="1927.2" cy="345.5" r="7"/>
<circle cx="1938.6" cy="391.4" r="7"/>
<circle cx="1942.1" cy="367.1" r="7"/>
<circle cx="1943.3" cy="357.1" r="7"/>
<circle cx="1949.2" cy="382.1" r="7"/>
<circle cx="1954.3" cy="369.5" r="7"/>
<circle cx="1955.5" cy="362.7" r="7"/>
<circle cx="1968.8" cy="344.9" r="7"/>
<circle cx="1975.1" cy="337.5" r="7"/>
<circle cx="1982.2" cy="337.9" r="7"/>
<circle cx="1982.5" cy="316.6" r="7"/>
<circle cx="1988.8" cy="309.3" r="7"/>
<circle cx="1993.9" cy="365.5" r="7"/>
<circle cx="1997.9" cy="339.7" r="7"/>
<circle cx="2007.7" cy="286.6" r="7"/>
<circle cx="2017.1" cy="290.2" r="7"/>
<circle cx="2018.7" cy="264.6" r="7"/>
<circle cx="2021.0" cy="301.3" r="7"/>
<circle cx="2023.0" cy="312.7" r="7"/>
<circle cx="2024.2" cy="285.9" r="7"/>
<circle cx="2024.5" cy="314.1" r="7"/>
<circle cx="2032.8" cy="285.9" r="7"/>
<circle cx="2033.2" cy="268.1" r="7"/>
<circle cx="2039.1" cy="305.2" r="7"/>
<circle cx="2039.9" cy="291.9" r="7"/>
<circle cx="2050.4" cy="276.3" r="7"/>
<circle cx="2053.6" cy="268.5" r="7"/>
<circle cx="2066.1" cy="249.1" r="7"/>
<circle cx="2068.9" cy="243.6" r="7"/>
<circle cx="2070.1" cy="238.9" r="7"/>
<circle cx="2094.0" cy="210.5" r="7"/>
<circle cx="2101.1" cy="211.2" r="7"/>
<circle cx="2105.4" cy="202.4" r="7"/>
<circle cx="2107.0" cy="186.6" r="7"/>
<circle cx="2108.1" cy="194.5" r="7"/>
<circle cx="2124.6" cy="182.3" r="7"/>
<circle cx="2138.8" cy="150.1" r="7"/>
<circle cx="2145.4" cy="150.1" r="7"/>
<circle cx="2165.1" cy="132.7" r="7"/>
<circle cx="2168.6" cy="140.9" r="7"/>
</g>
<line x1="332" y1="1963.5" x2="2254" y2="66.4" stroke="#ff0000" stroke-width="3.9" stroke-linecap="round" stroke-dasharray="9.2 9.2"/>
<line x1="332" y1="1925" x2="2239.5" y2="100.4" stroke="#0000ff" stroke-width="3.9" stroke-linecap="round" stroke-dasharray="9.2 9.2"/>
<line x1="1838.9" y1="406.8" x2="1762.0" y2="375.0" stroke="#ff0000" stroke-width="4.4" />
<polygon points="1736.8,372.9 1765,361.4 1762.1,389.3" fill="#ff0000"/>
<line x1="1907.5" y1="475.7" x2="1940.5" y2="626.0" stroke="#ff0000" stroke-width="4.4" />
<polygon points="1945.5,651 1926.3,626.9 1953.8,620.7" fill="#ff0000"/>
<line x1="1411.3" y1="829.2" x2="1294.0" y2="714.5" stroke="#ff0000" stroke-width="4.4" />
<polygon points="1269.9,711.3 1298.6,702 1293.6,728.6" fill="#ff0000"/>
<line x1="1114.5" y1="994.9" x2="985.0" y2="877.0" stroke="#0000ff" stroke-width="3.8" />
<polygon points="960.9,871.4 991,863.8 984.4,890.8" fill="#0000ff"/>
<line x1="372.8" y1="1781.8" x2="395.6" y2="1526.0" stroke="#0000ff" stroke-width="3.8" />
<polygon points="397.4,1502.3 381.8,1527.7 408.9,1529.3" fill="#0000ff"/>
<line x1="803.9" y1="1613.0" x2="918.0" y2="1744.0" stroke="#0000ff" stroke-width="3.8" />
<polygon points="940.7,1747 919.1,1728.2 910.9,1753" fill="#0000ff"/>
<rect x="305" y="47" width="1962.5" height="1953.5" fill="none" stroke="#000" stroke-width="6.8"/>
<text transform="translate(305.0,2087.7) scale(0.984,1)" font-size="58.6" font-weight="bold" text-anchor="middle" fill="#000">70</text>
<text transform="translate(256.2,2017.7) scale(0.984,1)" font-size="58.6" font-weight="bold" text-anchor="end" fill="#000">70</text>
<line x1="502.8" y1="2000.5" x2="502.8" y2="1988.5" stroke="#000" stroke-width="6.3"/>
<line x1="305" y1="1805.2" x2="319" y2="1805.2" stroke="#000" stroke-width="6.3"/>
<line x1="698.8" y1="2000.5" x2="698.8" y2="1984.0" stroke="#000" stroke-width="6.3"/>
<line x1="305" y1="1609.8" x2="323.5" y2="1609.8" stroke="#000" stroke-width="6.3"/>
<text transform="translate(698.8,2087.7) scale(0.984,1)" font-size="58.6" font-weight="bold" text-anchor="middle" fill="#000">90</text>
<text transform="translate(256.2,1627.0) scale(0.984,1)" font-size="58.6" font-weight="bold" text-anchor="end" fill="#000">90</text>
<line x1="894.8" y1="2000.5" x2="894.8" y2="1988.5" stroke="#000" stroke-width="6.3"/>
<line x1="305" y1="1414.5" x2="319" y2="1414.5" stroke="#000" stroke-width="6.3"/>
<line x1="1090.8" y1="2000.5" x2="1090.8" y2="1984.0" stroke="#000" stroke-width="6.3"/>
<line x1="305" y1="1219.1" x2="323.5" y2="1219.1" stroke="#000" stroke-width="6.3"/>
<text transform="translate(1090.8,2087.7) scale(0.984,1)" font-size="58.6" font-weight="bold" text-anchor="middle" fill="#000">110</text>
<text transform="translate(256.2,1236.3) scale(0.984,1)" font-size="58.6" font-weight="bold" text-anchor="end" fill="#000">110</text>
<line x1="1286.8" y1="2000.5" x2="1286.8" y2="1988.5" stroke="#000" stroke-width="6.3"/>
<line x1="305" y1="1023.8" x2="319" y2="1023.8" stroke="#000" stroke-width="6.3"/>
<line x1="1482.8" y1="2000.5" x2="1482.8" y2="1984.0" stroke="#000" stroke-width="6.3"/>
<line x1="305" y1="828.4" x2="323.5" y2="828.4" stroke="#000" stroke-width="6.3"/>
<text transform="translate(1482.8,2087.7) scale(0.984,1)" font-size="58.6" font-weight="bold" text-anchor="middle" fill="#000">130</text>
<text transform="translate(256.2,845.6) scale(0.984,1)" font-size="58.6" font-weight="bold" text-anchor="end" fill="#000">130</text>
<line x1="1678.8" y1="2000.5" x2="1678.8" y2="1988.5" stroke="#000" stroke-width="6.3"/>
<line x1="305" y1="633.0" x2="319" y2="633.0" stroke="#000" stroke-width="6.3"/>
<line x1="1874.8" y1="2000.5" x2="1874.8" y2="1984.0" stroke="#000" stroke-width="6.3"/>
<line x1="305" y1="437.7" x2="323.5" y2="437.7" stroke="#000" stroke-width="6.3"/>
<text transform="translate(1874.8,2087.7) scale(0.984,1)" font-size="58.6" font-weight="bold" text-anchor="middle" fill="#000">150</text>
<text transform="translate(256.2,454.9) scale(0.984,1)" font-size="58.6" font-weight="bold" text-anchor="end" fill="#000">150</text>
<line x1="2070.8" y1="2000.5" x2="2070.8" y2="1988.5" stroke="#000" stroke-width="6.3"/>
<line x1="305" y1="242.3" x2="319" y2="242.3" stroke="#000" stroke-width="6.3"/>
<text transform="translate(2267.5,2087.7) scale(0.984,1)" font-size="58.6" font-weight="bold" text-anchor="middle" fill="#000">170</text>
<text transform="translate(256.2,64.2) scale(0.984,1)" font-size="58.6" font-weight="bold" text-anchor="end" fill="#000">170</text>
<text transform="translate(817,2231.9) scale(0.972,1)" font-size="68.7" font-weight="bold" fill="#000">Experimental <tspan font-size="45" dy="-20.5">13</tspan><tspan dy="20.5">C chemical shift</tspan></text>
<text transform="translate(88,1530.9) rotate(-90) scale(0.972,1)" font-size="68.7" font-weight="bold" fill="#000">Estimated <tspan font-size="45" dy="-20.5">13</tspan><tspan dy="20.5">C chemical shift</tspan></text>
<circle cx="356.6" cy="121" r="6.8" fill="#ff0000"/>
<circle cx="356.2" cy="233.5" r="7" fill="none" stroke="#0000ff" stroke-opacity="0.5" stroke-width="3.2"/>
<text transform="translate(429.5,139.4) scale(0.958,1)" font-size="50" font-weight="bold" fill="#ff0000">GM26 – RMSE = 0.9 ppm</text>
<text transform="translate(1260.9,142) scale(0.985,1)" font-size="49.3" font-weight="bold" fill="#ff0000">R² = 0.997</text>
<text transform="translate(429.2,249) scale(0.957,1)" font-size="50" font-weight="bold" fill="#0000ff">MestReNova – RMSE = 1.8 ppm</text>
<text transform="translate(1259.3,251.2) scale(0.99,1)" font-size="49.3" font-weight="bold" fill="#0000ff">R² = 0.986</text>
</svg></body></html>
